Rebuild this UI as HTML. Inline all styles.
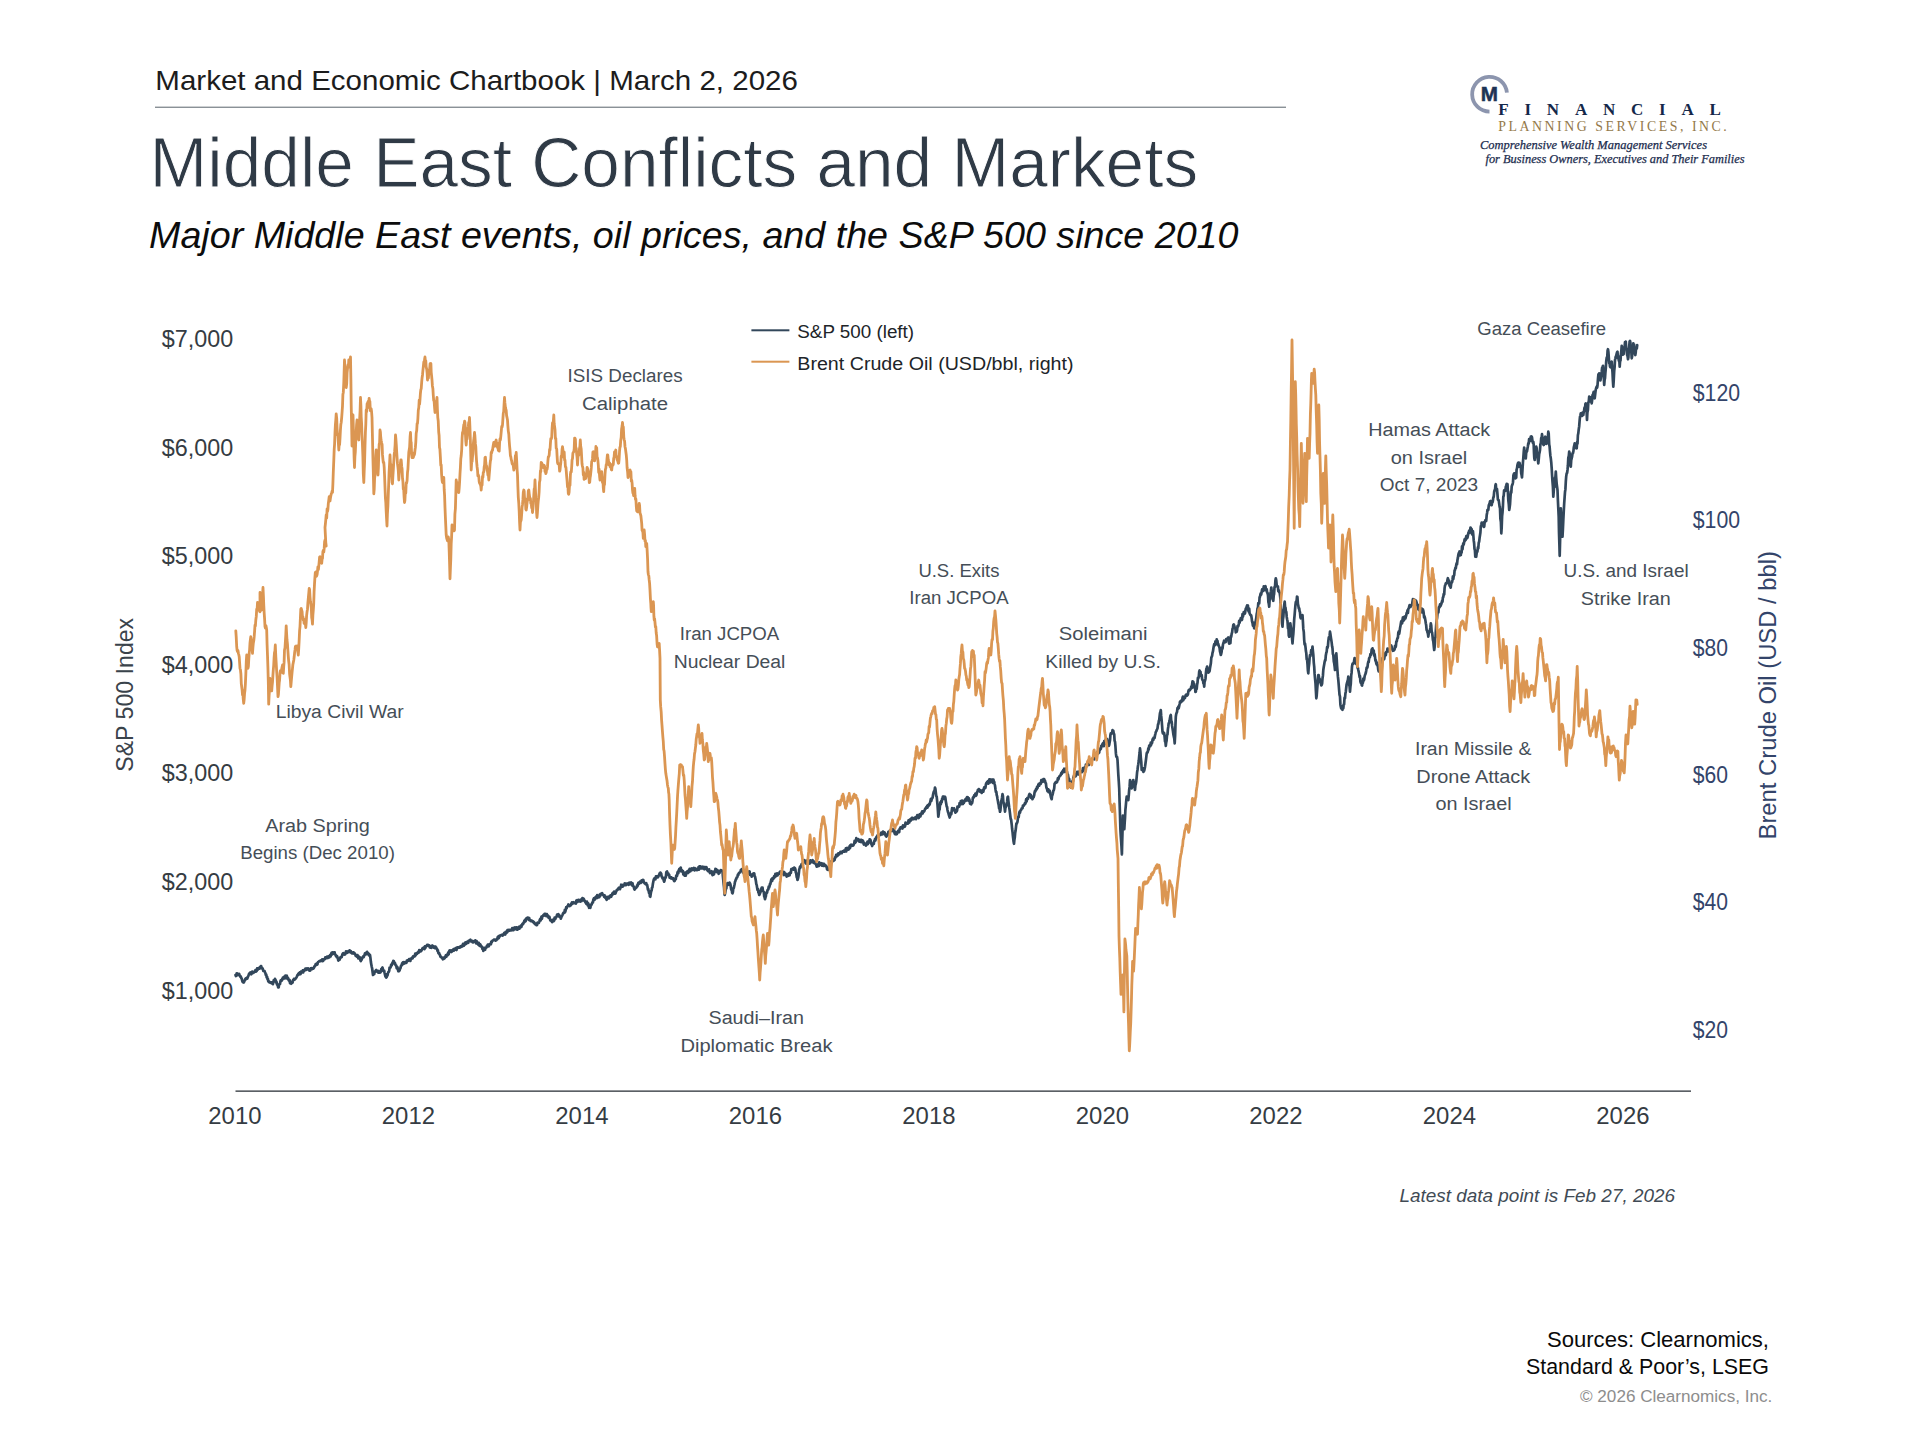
<!DOCTYPE html>
<html lang="en"><head><meta charset="utf-8"><title>Middle East Conflicts and Markets</title>
<style>
html,body{margin:0;padding:0;background:#fff;}
body{width:1920px;height:1440px;overflow:hidden;font-family:'Liberation Sans', Arial, sans-serif;}
svg{display:block}

</style></head><body>
<svg font-family="Liberation Sans, Arial, sans-serif" width="1920" height="1440" viewBox="0 0 1920 1440">
<rect width="1920" height="1440" fill="#ffffff"/>
<polyline points="235.5,975.0 235.9,976.1 236.3,975.9 236.7,973.3 237.1,973.3 237.5,975.1 237.9,974.7 238.3,974.4 238.8,973.8 239.2,974.0 239.6,975.5 240.0,976.2 240.4,976.9 240.8,976.5 241.2,977.9 241.7,978.6 242.1,980.2 242.5,981.6 242.9,982.2 243.3,981.9 243.8,982.5 244.2,981.7 244.6,980.6 245.1,979.4 245.5,978.7 246.0,979.3 246.4,978.3 246.9,977.8 247.3,978.6 247.8,976.9 248.2,976.4 248.7,974.9 249.1,973.7 249.6,973.9 250.0,973.8 250.4,972.5 250.9,973.2 251.3,974.3 251.8,973.2 252.2,971.5 252.7,973.2 253.1,972.7 253.6,972.2 254.0,972.4 254.5,971.8 254.9,971.6 255.4,970.1 255.8,971.6 256.2,970.0 256.7,971.0 257.1,968.4 257.5,969.8 257.9,969.3 258.3,968.3 258.8,968.2 259.2,967.8 259.6,968.7 260.0,967.2 260.4,967.8 260.8,966.2 261.2,966.2 261.7,968.0 262.1,968.7 262.5,968.2 262.9,969.2 263.3,970.9 263.8,971.0 264.2,971.1 264.6,971.0 265.0,972.5 265.4,973.0 265.8,975.0 266.2,974.5 266.7,977.5 267.1,976.7 267.5,979.4 267.9,978.8 268.3,981.5 268.8,981.2 269.2,982.1 269.6,981.8 270.0,982.1 270.4,982.8 270.8,982.9 271.2,982.4 271.7,982.4 272.1,983.5 272.5,983.8 272.9,984.1 273.3,982.4 273.8,980.1 274.2,981.3 274.6,980.2 275.0,978.8 275.4,980.9 275.8,980.1 276.2,982.7 276.6,982.0 277.0,984.6 277.4,984.7 277.8,985.7 278.2,987.5 278.7,987.4 279.1,984.3 279.5,984.3 280.0,984.1 280.4,981.5 280.8,980.3 281.2,980.0 281.7,980.7 282.1,979.2 282.5,979.6 282.9,977.5 283.3,978.1 283.8,977.2 284.2,978.3 284.6,976.4 285.0,978.4 285.4,975.6 285.8,977.2 286.2,976.2 286.7,975.6 287.1,976.8 287.5,979.0 287.9,977.8 288.3,978.5 288.8,980.5 289.2,980.3 289.6,980.0 290.0,983.2 290.4,981.6 290.8,981.9 291.2,983.8 291.7,982.7 292.1,982.8 292.6,982.5 293.0,980.2 293.5,980.2 293.9,978.8 294.4,979.2 294.8,979.5 295.3,978.8 295.7,978.6 296.2,977.6 296.6,977.2 297.1,976.2 297.5,975.0 297.9,974.6 298.4,973.7 298.8,974.6 299.3,973.3 299.7,972.5 300.1,973.1 300.6,974.0 301.0,971.6 301.5,972.6 301.9,971.8 302.4,971.8 302.8,970.5 303.2,972.4 303.7,970.2 304.1,970.9 304.6,970.1 305.0,970.0 305.4,968.6 305.9,970.0 306.3,968.8 306.8,968.5 307.2,968.4 307.6,968.6 308.1,968.4 308.5,969.8 309.0,969.4 309.4,970.6 309.9,970.4 310.3,970.5 310.7,968.3 311.2,968.8 311.6,968.2 312.1,969.1 312.5,968.8 312.9,968.7 313.4,968.7 313.8,968.0 314.3,966.3 314.7,966.3 315.1,966.2 315.6,964.3 316.0,963.9 316.5,964.5 316.9,963.3 317.4,964.5 317.8,962.7 318.2,961.9 318.7,961.7 319.1,961.4 319.6,960.9 320.0,961.2 320.4,961.1 320.9,960.7 321.3,960.1 321.8,960.8 322.2,959.3 322.6,961.1 323.1,961.0 323.5,960.1 324.0,959.1 324.4,959.1 324.9,959.1 325.3,957.3 325.7,958.2 326.2,958.2 326.6,957.0 327.1,956.6 327.5,957.5 327.9,958.0 328.4,956.4 328.8,956.5 329.3,957.3 329.7,956.0 330.2,954.8 330.6,956.4 331.1,954.3 331.5,952.9 332.0,954.5 332.4,952.4 332.9,952.7 333.3,953.8 333.8,952.5 334.2,953.6 334.6,952.4 335.0,954.2 335.4,954.7 335.8,955.6 336.2,955.4 336.7,957.1 337.1,956.3 337.5,957.5 337.9,958.4 338.3,960.6 338.8,960.0 339.2,958.3 339.6,959.7 340.0,957.6 340.4,958.1 340.8,957.1 341.2,956.8 341.7,957.1 342.1,955.5 342.5,954.2 342.9,953.7 343.3,953.1 343.8,953.8 344.2,954.5 344.6,953.7 345.1,954.4 345.5,953.4 346.0,951.3 346.4,952.9 346.9,953.0 347.3,952.7 347.8,951.8 348.2,951.2 348.7,951.3 349.1,952.0 349.6,950.3 350.0,950.8 350.4,951.1 350.9,951.3 351.3,953.0 351.8,952.8 352.2,953.5 352.7,953.5 353.1,952.3 353.6,952.4 354.0,953.5 354.5,953.1 354.9,953.9 355.4,954.9 355.8,955.9 356.2,955.0 356.7,955.7 357.1,956.7 357.5,955.1 357.9,956.3 358.3,958.5 358.8,956.5 359.2,957.7 359.6,957.1 360.0,957.6 360.4,960.3 360.8,961.0 361.2,960.0 361.7,959.8 362.1,957.7 362.5,957.6 362.9,956.7 363.3,957.4 363.8,956.8 364.2,955.5 364.6,955.1 365.0,953.3 365.4,953.9 365.8,954.4 366.2,952.5 366.7,953.5 367.1,951.9 367.5,953.4 367.9,954.2 368.3,953.2 368.8,955.3 369.2,954.3 369.6,955.3 370.0,955.0 370.4,957.6 370.9,962.1 371.3,964.4 371.7,966.6 372.1,968.3 372.6,972.0 373.0,975.0 373.4,973.1 373.8,974.0 374.2,974.2 374.6,971.6 375.0,971.9 375.4,971.2 375.8,970.4 376.2,970.0 376.7,970.9 377.1,971.7 377.5,971.4 377.9,971.0 378.3,972.6 378.8,971.2 379.2,972.6 379.6,972.7 380.0,972.5 380.4,972.4 380.8,971.8 381.2,969.2 381.7,969.5 382.1,968.1 382.5,967.5 382.9,969.1 383.3,971.0 383.8,971.2 384.2,970.6 384.6,973.0 385.0,974.7 385.4,976.3 385.8,976.8 386.2,977.5 386.7,977.2 387.1,974.0 387.5,975.4 387.9,973.7 388.3,972.2 388.8,971.9 389.2,970.8 389.6,967.5 390.0,967.5 390.4,967.7 390.8,966.8 391.2,964.6 391.7,965.4 392.1,964.3 392.5,962.5 392.9,963.5 393.3,960.9 393.8,961.2 394.2,962.4 394.6,962.7 395.0,963.1 395.4,964.8 395.8,965.3 396.2,965.4 396.7,968.4 397.1,966.7 397.5,967.4 397.9,969.5 398.3,971.3 398.8,971.2 399.2,970.8 399.6,970.3 400.0,968.7 400.4,968.4 400.8,966.6 401.2,965.6 401.7,965.4 402.1,963.3 402.5,963.8 402.9,962.4 403.4,964.0 403.8,962.2 404.3,963.6 404.7,963.4 405.1,962.2 405.6,962.7 406.0,962.8 406.5,962.8 406.9,960.5 407.4,960.4 407.8,960.8 408.2,960.8 408.7,960.1 409.1,959.1 409.6,960.4 410.0,960.0 410.4,960.9 410.9,958.7 411.3,958.8 411.8,957.9 412.2,957.6 412.6,958.4 413.1,956.4 413.5,956.9 414.0,956.0 414.4,955.7 414.9,956.3 415.3,953.5 415.7,955.2 416.2,953.3 416.6,953.8 417.1,953.8 417.5,952.5 417.9,952.6 418.4,951.6 418.8,952.6 419.2,950.2 419.7,951.4 420.1,950.4 420.5,950.5 421.0,951.2 421.4,950.7 421.8,949.9 422.3,948.7 422.7,948.2 423.2,948.6 423.6,947.6 424.0,947.5 424.5,949.1 424.9,946.4 425.3,948.1 425.8,946.6 426.2,946.2 426.6,945.8 427.1,944.8 427.5,945.8 427.9,945.7 428.4,945.0 428.8,945.8 429.2,945.5 429.7,947.3 430.1,947.5 430.6,946.2 431.0,946.9 431.4,947.8 431.9,946.1 432.3,945.5 432.8,946.0 433.2,946.0 433.6,947.5 434.1,946.7 434.5,946.7 434.9,948.1 435.4,946.6 435.8,948.3 436.2,947.5 436.7,948.7 437.1,948.9 437.5,950.9 437.9,950.4 438.3,952.8 438.8,953.7 439.2,953.3 439.6,954.7 440.0,955.0 440.4,956.7 440.8,956.5 441.2,957.0 441.7,957.7 442.1,958.3 442.5,958.2 442.9,959.3 443.3,957.7 443.8,958.8 444.2,958.6 444.6,958.2 445.1,956.8 445.5,956.3 446.0,955.1 446.4,956.8 446.9,954.6 447.3,954.4 447.8,955.1 448.2,952.5 448.7,954.2 449.1,951.3 449.6,950.4 450.0,951.2 450.4,950.7 450.9,950.5 451.3,952.0 451.7,951.7 452.2,951.2 452.6,950.1 453.0,950.2 453.5,949.2 453.9,950.7 454.3,949.3 454.8,948.8 455.2,949.7 455.7,948.1 456.1,948.4 456.5,950.0 457.0,947.5 457.4,947.4 457.8,947.5 458.3,947.4 458.7,947.8 459.1,947.1 459.6,947.2 460.0,947.5 460.4,946.4 460.9,946.1 461.3,946.8 461.7,945.7 462.2,945.5 462.6,946.3 463.0,943.9 463.5,943.9 463.9,945.6 464.3,944.0 464.8,944.7 465.2,942.5 465.7,943.3 466.1,943.9 466.5,942.1 467.0,943.1 467.4,942.3 467.8,941.3 468.3,942.8 468.7,940.7 469.1,940.6 469.6,940.7 470.0,940.0 470.4,939.6 470.9,941.3 471.3,940.7 471.8,940.8 472.2,940.8 472.6,942.3 473.1,942.5 473.5,942.2 474.0,941.2 474.4,941.2 474.9,941.7 475.3,940.4 475.7,940.8 476.2,943.5 476.6,941.1 477.1,943.6 477.5,942.5 477.9,943.6 478.4,944.8 478.8,942.9 479.3,944.1 479.7,946.0 480.2,944.3 480.6,945.1 481.1,946.4 481.5,946.4 482.0,946.8 482.4,948.9 482.9,947.8 483.3,950.8 483.8,950.0 484.2,950.0 484.6,947.8 485.1,949.8 485.5,947.5 486.0,947.7 486.4,947.5 486.9,945.8 487.3,946.4 487.8,944.7 488.2,944.7 488.7,946.3 489.1,945.6 489.6,944.3 490.0,943.8 490.4,944.0 490.9,944.2 491.3,941.7 491.7,942.4 492.2,941.0 492.6,940.7 493.0,940.3 493.5,940.3 493.9,939.5 494.3,939.6 494.8,939.8 495.2,940.2 495.7,940.6 496.1,940.4 496.5,939.5 497.0,938.6 497.4,939.4 497.8,936.9 498.3,936.4 498.7,938.2 499.1,937.3 499.6,935.7 500.0,936.2 500.4,935.6 500.9,935.1 501.3,935.2 501.7,934.9 502.2,934.6 502.6,935.5 503.0,935.3 503.5,934.3 503.9,933.7 504.3,932.9 504.8,934.1 505.2,934.5 505.7,931.9 506.1,933.1 506.5,932.8 507.0,932.4 507.4,930.2 507.8,931.5 508.3,930.2 508.7,929.9 509.1,930.8 509.6,930.7 510.0,930.0 510.4,930.3 510.9,930.5 511.3,930.3 511.7,929.5 512.2,928.1 512.6,930.2 513.0,930.2 513.5,930.1 513.9,929.3 514.3,927.5 514.8,927.9 515.2,927.5 515.7,929.0 516.1,928.6 516.5,927.4 517.0,929.6 517.4,929.6 517.8,929.3 518.3,927.8 518.7,927.2 519.1,926.8 519.6,928.6 520.0,927.5 520.4,927.5 520.9,925.6 521.3,927.0 521.8,925.4 522.2,924.3 522.6,923.7 523.1,924.1 523.5,922.7 524.0,922.7 524.4,920.5 524.9,921.7 525.3,919.7 525.7,921.1 526.2,918.4 526.6,918.2 527.1,918.2 527.5,917.5 527.9,917.5 528.4,918.3 528.8,919.9 529.2,918.1 529.7,920.2 530.1,920.3 530.6,921.0 531.0,920.3 531.4,920.7 531.9,920.8 532.3,921.5 532.8,921.2 533.2,921.4 533.6,922.7 534.1,922.2 534.5,923.4 534.9,924.1 535.4,923.7 535.8,923.6 536.2,925.0 536.7,924.8 537.1,925.0 537.6,922.5 538.0,923.1 538.4,922.7 538.9,922.8 539.3,921.6 539.8,919.9 540.2,919.0 540.6,920.4 541.1,918.2 541.5,916.7 541.9,918.8 542.4,916.2 542.8,916.0 543.2,915.4 543.7,914.7 544.1,915.6 544.6,913.8 545.0,913.8 545.4,914.0 545.9,914.4 546.3,916.1 546.8,914.0 547.2,916.2 547.6,915.2 548.1,915.7 548.5,917.6 549.0,917.3 549.4,916.8 549.9,918.9 550.3,920.3 550.7,919.9 551.2,919.9 551.6,921.3 552.1,922.1 552.5,921.2 552.9,919.7 553.3,919.6 553.8,921.1 554.2,920.5 554.6,917.7 555.0,918.8 555.4,918.8 555.8,917.4 556.2,917.2 556.7,916.1 557.1,914.7 557.5,915.0 557.9,914.4 558.3,914.2 558.8,916.4 559.2,915.0 559.6,916.8 560.0,916.3 560.4,916.7 560.8,918.7 561.2,917.5 561.7,916.4 562.1,915.8 562.6,914.7 563.0,913.4 563.5,912.6 563.9,912.8 564.4,912.9 564.8,909.8 565.3,911.7 565.7,910.0 566.2,907.2 566.6,908.5 567.1,906.7 567.5,906.2 567.9,906.1 568.4,904.5 568.8,905.6 569.3,905.4 569.7,906.1 570.1,905.2 570.6,905.4 571.0,905.2 571.5,903.4 571.9,902.5 572.4,903.8 572.8,902.4 573.2,902.2 573.7,902.6 574.1,903.1 574.6,903.1 575.0,902.5 575.4,902.8 575.9,903.6 576.3,900.7 576.8,901.9 577.2,900.2 577.6,901.9 578.1,901.0 578.5,899.8 578.9,900.2 579.4,901.1 579.8,900.4 580.2,901.7 580.7,899.6 581.1,899.4 581.6,901.1 582.0,899.8 582.4,898.0 582.9,900.0 583.3,898.5 583.8,898.8 584.2,900.8 584.6,900.4 585.1,901.6 585.5,902.5 586.0,901.9 586.4,904.0 586.9,901.6 587.3,903.2 587.8,905.5 588.2,903.4 588.7,906.2 589.1,907.8 589.6,907.6 590.0,907.5 590.4,907.8 590.8,904.5 591.2,905.1 591.7,904.5 592.1,903.1 592.5,902.2 592.9,902.6 593.3,899.7 593.8,898.5 594.2,899.5 594.6,899.9 595.0,897.5 595.4,898.4 595.9,897.7 596.3,896.3 596.8,898.1 597.2,895.1 597.6,895.6 598.1,897.2 598.5,897.4 599.0,895.6 599.4,897.1 599.9,894.3 600.3,895.7 600.7,893.8 601.2,894.2 601.6,893.8 602.1,893.1 602.5,894.5 602.9,894.7 603.3,895.4 603.8,895.2 604.2,896.9 604.6,895.4 605.0,897.4 605.4,897.9 605.8,898.0 606.2,898.8 606.7,899.8 607.1,896.9 607.6,897.6 608.0,897.4 608.4,896.8 608.9,898.4 609.3,896.8 609.8,896.3 610.2,895.7 610.6,895.4 611.1,896.8 611.5,896.0 611.9,895.2 612.4,893.3 612.8,894.4 613.2,892.5 613.7,892.9 614.1,891.6 614.6,893.5 615.0,892.5 615.4,893.6 615.9,892.1 616.3,891.4 616.8,889.9 617.2,890.1 617.6,889.7 618.1,889.2 618.5,888.2 619.0,887.6 619.4,888.9 619.9,889.2 620.3,888.3 620.7,887.2 621.2,884.7 621.6,885.2 622.1,886.6 622.5,885.0 622.9,886.5 623.4,884.9 623.8,884.9 624.2,885.1 624.7,883.5 625.1,885.0 625.6,883.7 626.0,885.2 626.4,883.7 626.9,884.3 627.3,883.8 627.8,883.6 628.2,883.2 628.6,884.8 629.1,884.0 629.5,882.7 629.9,882.9 630.4,884.1 630.8,883.5 631.2,882.5 631.7,883.7 632.1,885.4 632.5,883.3 632.9,885.6 633.3,886.4 633.8,886.5 634.2,888.9 634.6,889.6 635.0,888.8 635.4,887.8 635.8,888.0 636.2,887.9 636.7,887.1 637.1,885.4 637.5,886.2 637.9,884.1 638.3,882.9 638.8,884.0 639.2,883.4 639.6,882.0 640.0,881.7 640.4,881.5 640.8,882.9 641.2,882.1 641.6,880.5 642.1,882.0 642.5,880.7 642.9,879.9 643.3,880.0 643.7,881.2 644.1,882.3 644.6,883.3 645.0,883.3 645.4,883.9 645.8,883.7 646.2,883.1 646.7,885.2 647.1,884.7 647.5,886.7 647.9,889.6 648.3,889.1 648.7,891.3 649.1,893.2 649.5,892.8 649.9,896.4 650.3,896.7 650.7,894.0 651.2,891.0 651.6,890.6 652.0,887.8 652.4,887.4 652.9,883.7 653.3,881.7 653.7,879.7 654.1,878.8 654.6,878.2 655.0,879.2 655.4,879.3 655.9,876.4 656.3,876.7 656.7,876.7 657.1,876.3 657.5,877.4 657.9,877.3 658.3,876.6 658.8,875.5 659.2,874.9 659.6,873.4 660.0,874.4 660.4,872.5 660.8,873.3 661.2,873.7 661.6,876.5 662.1,876.7 662.5,878.3 662.9,878.4 663.4,878.9 663.8,880.7 664.2,881.7 664.6,880.3 665.0,877.5 665.5,877.9 665.9,876.7 666.3,872.3 666.7,871.7 667.1,871.5 667.5,874.1 667.9,874.4 668.3,873.4 668.8,875.3 669.2,874.8 669.6,877.6 670.0,877.3 670.4,877.7 670.8,878.3 671.2,877.3 671.6,878.3 672.1,878.7 672.5,878.5 672.9,878.1 673.3,878.3 673.7,880.2 674.2,881.1 674.6,881.0 675.0,880.0 675.4,879.4 675.8,879.0 676.2,875.8 676.7,875.1 677.1,875.8 677.5,872.4 677.9,871.7 678.3,873.2 678.8,870.2 679.2,869.2 679.6,868.9 680.0,868.3 680.4,870.0 680.8,867.7 681.2,871.3 681.7,869.9 682.1,871.3 682.5,871.6 682.9,870.9 683.3,874.3 683.8,872.2 684.2,874.9 684.6,875.7 685.0,875.0 685.4,874.4 685.8,875.7 686.2,872.3 686.7,872.1 687.1,872.9 687.5,871.0 687.9,873.1 688.3,871.8 688.8,872.3 689.2,870.1 689.6,868.8 690.0,870.0 690.4,871.3 690.9,868.9 691.3,869.6 691.8,868.5 692.2,870.0 692.7,869.6 693.1,868.6 693.6,868.0 694.0,869.0 694.5,870.4 694.9,868.2 695.4,868.4 695.8,869.7 696.3,869.7 696.7,869.2 697.1,870.1 697.6,869.3 698.0,869.8 698.5,867.2 698.9,869.7 699.4,866.4 699.8,866.5 700.3,866.3 700.7,868.4 701.2,867.3 701.6,868.5 702.1,868.5 702.5,866.7 702.9,868.5 703.4,867.6 703.8,866.9 704.3,869.3 704.7,868.8 705.2,867.2 705.6,868.7 706.1,867.1 706.5,867.3 707.0,869.7 707.4,870.3 707.9,871.0 708.3,870.0 708.7,871.2 709.1,869.4 709.5,871.9 710.0,873.1 710.4,872.4 710.8,872.0 711.2,871.7 711.6,871.3 712.0,873.6 712.5,875.1 712.9,872.5 713.3,874.2 713.7,874.5 714.1,873.9 714.5,871.2 715.0,872.1 715.4,868.8 715.8,869.2 716.2,869.1 716.6,870.5 717.0,872.2 717.5,871.5 717.9,870.5 718.3,872.5 718.7,873.8 719.1,872.4 719.6,872.9 720.0,870.9 720.4,871.1 720.8,870.1 721.2,870.2 721.7,870.9 722.1,870.7 722.5,870.8 722.9,876.1 723.4,881.4 723.8,885.0 724.1,887.8 724.4,893.1 724.7,895.0 725.1,893.5 725.5,890.5 725.9,888.0 726.3,888.5 726.7,885.0 727.1,885.3 727.5,883.0 727.9,885.0 728.4,883.7 728.8,883.7 729.2,884.6 729.6,882.6 730.0,883.3 730.4,884.2 730.8,886.8 731.2,889.6 731.7,888.6 732.1,892.7 732.5,893.3 732.9,892.1 733.3,888.4 733.8,888.0 734.2,886.0 734.6,884.3 735.0,881.7 735.4,881.0 735.8,879.4 736.2,879.2 736.6,877.5 737.1,877.4 737.5,876.4 737.9,874.5 738.3,875.0 738.7,873.4 739.1,873.0 739.6,872.5 740.0,872.3 740.4,872.2 740.9,869.8 741.3,870.1 741.7,869.2 742.1,869.2 742.5,869.3 742.9,869.5 743.4,872.8 743.8,873.3 744.2,873.4 744.6,871.7 745.0,873.3 745.4,872.0 745.8,871.8 746.3,872.4 746.7,872.7 747.1,871.2 747.5,872.6 747.9,873.4 748.4,873.8 748.8,871.5 749.2,872.5 749.6,871.5 750.0,874.9 750.5,874.2 750.9,874.7 751.3,874.8 751.7,876.7 752.1,875.3 752.5,874.8 753.0,874.2 753.4,873.5 753.8,873.9 754.2,873.3 754.6,876.3 755.0,876.5 755.5,878.9 755.9,881.0 756.3,884.2 756.7,885.0 757.1,887.6 757.5,889.9 758.0,888.9 758.4,892.7 758.8,892.7 759.2,895.0 759.6,894.3 760.0,893.2 760.4,892.4 760.9,890.7 761.3,888.9 761.7,887.7 762.1,889.9 762.5,887.5 762.9,890.7 763.3,891.3 763.8,892.0 764.2,896.4 764.6,897.3 765.0,899.2 765.4,897.6 765.8,896.6 766.2,893.5 766.7,892.1 767.1,892.6 767.5,890.0 767.9,889.7 768.3,889.5 768.7,886.7 769.1,887.4 769.6,886.1 770.0,883.8 770.4,884.1 770.8,881.7 771.2,880.0 771.6,879.1 772.1,881.0 772.5,878.1 772.9,878.8 773.3,879.0 773.7,878.2 774.2,876.0 774.6,877.4 775.0,875.8 775.4,873.9 775.8,875.3 776.2,876.1 776.7,874.6 777.1,873.4 777.5,875.5 777.9,874.2 778.3,874.1 778.8,874.1 779.2,873.9 779.6,872.3 780.0,871.7 780.4,873.0 780.8,872.1 781.2,871.5 781.7,871.8 782.1,871.9 782.5,871.3 782.9,873.6 783.3,873.0 783.8,875.0 784.2,872.2 784.6,875.0 785.0,874.2 785.4,873.4 785.8,874.0 786.2,874.1 786.6,876.6 787.1,875.7 787.5,875.3 787.9,874.5 788.3,875.8 788.7,873.5 789.1,873.9 789.6,875.3 790.0,872.7 790.4,872.8 790.9,872.8 791.3,869.2 791.7,870.0 792.1,869.2 792.5,869.3 792.9,868.4 793.4,868.7 793.8,869.6 794.2,867.5 794.6,869.2 795.0,868.3 795.4,869.5 795.8,872.7 796.2,873.0 796.7,877.1 797.1,877.8 797.5,880.0 797.9,878.9 798.3,877.2 798.8,873.6 799.2,869.5 799.6,868.5 800.0,866.7 800.4,867.7 800.8,866.0 801.2,865.7 801.6,864.1 802.1,865.1 802.5,864.4 802.9,862.7 803.3,861.7 803.7,862.1 804.1,860.4 804.5,860.2 805.0,860.9 805.4,862.8 805.8,863.3 806.2,863.1 806.6,863.6 807.0,860.7 807.5,860.7 807.9,861.6 808.3,862.5 808.7,860.7 809.1,862.5 809.5,863.6 810.0,863.3 810.4,860.4 810.8,862.2 811.2,862.1 811.6,861.9 812.0,860.9 812.5,860.2 812.9,862.3 813.3,860.8 813.7,863.0 814.1,863.0 814.6,863.2 815.0,862.1 815.4,863.7 815.9,864.3 816.3,865.1 816.7,866.7 817.1,865.3 817.5,866.4 817.9,866.1 818.4,863.9 818.8,866.0 819.2,862.4 819.6,865.3 820.0,863.3 820.4,863.8 820.8,864.2 821.2,863.2 821.7,864.8 822.1,865.7 822.5,863.5 822.9,863.5 823.3,866.0 823.8,864.3 824.2,864.0 824.6,865.6 825.0,865.8 825.4,865.2 825.8,865.9 826.2,866.6 826.6,866.5 827.1,869.5 827.5,869.2 827.9,870.0 828.3,870.0 828.7,868.2 829.1,868.9 829.6,868.5 830.0,867.6 830.4,863.2 830.9,863.1 831.3,861.3 831.7,861.7 832.1,861.1 832.5,861.3 832.9,860.6 833.3,859.2 833.8,860.8 834.2,859.1 834.6,860.0 835.0,857.4 835.4,857.7 835.8,856.7 836.2,854.9 836.6,856.1 837.1,856.2 837.5,854.4 837.9,855.4 838.3,853.3 838.7,854.2 839.2,854.4 839.6,853.6 840.0,853.3 840.4,851.9 840.8,851.9 841.3,852.4 841.7,853.2 842.1,852.3 842.5,851.3 842.9,851.6 843.4,851.3 843.8,850.6 844.2,851.7 844.6,851.7 845.0,850.9 845.4,850.1 845.8,848.5 846.2,851.5 846.7,848.0 847.1,847.9 847.5,848.2 847.9,849.7 848.3,848.3 848.7,849.5 849.1,848.6 849.6,846.2 850.0,848.2 850.4,845.0 850.8,844.9 851.2,844.6 851.7,845.9 852.1,845.7 852.5,845.0 852.9,844.9 853.3,845.5 853.8,844.2 854.2,843.6 854.6,840.9 855.0,843.0 855.4,842.5 855.9,841.6 856.3,838.2 856.7,839.2 857.1,840.2 857.5,839.7 858.0,840.0 858.4,839.2 858.8,841.2 859.2,841.6 859.6,841.6 860.0,840.1 860.5,841.9 860.9,839.8 861.3,842.2 861.7,841.7 862.1,840.2 862.5,840.3 863.0,840.9 863.4,843.1 863.8,844.5 864.2,842.8 864.6,843.7 865.0,843.7 865.5,844.8 865.9,845.5 866.3,845.1 866.7,844.2 867.1,843.1 867.5,841.6 867.9,844.1 868.4,841.3 868.8,842.5 869.2,842.4 869.6,839.3 870.0,840.0 870.4,839.7 870.8,841.4 871.2,843.8 871.7,844.6 872.1,846.0 872.5,845.0 872.9,843.3 873.3,843.8 873.8,843.9 874.2,841.2 874.6,841.2 875.0,839.0 875.4,840.5 875.9,838.1 876.3,837.5 876.7,836.7 877.1,836.9 877.5,835.3 878.0,836.8 878.4,835.1 878.8,834.7 879.2,835.4 879.6,834.9 880.0,834.7 880.5,834.9 880.9,834.4 881.3,832.5 881.7,832.5 882.1,833.2 882.5,834.3 883.0,831.5 883.4,833.9 883.8,833.6 884.2,833.4 884.6,832.5 885.0,833.4 885.5,835.3 885.9,836.0 886.3,836.6 886.7,835.0 887.1,835.5 887.5,835.4 888.0,834.8 888.4,831.8 888.8,833.3 889.2,833.5 889.6,832.6 890.0,830.3 890.5,831.4 890.9,829.8 891.3,829.4 891.7,829.2 892.1,830.5 892.5,830.7 893.0,829.1 893.4,831.4 893.8,829.6 894.2,830.6 894.6,833.3 895.0,834.1 895.5,832.0 895.9,834.4 896.3,832.6 896.7,834.2 897.1,833.6 897.5,832.5 898.0,831.0 898.4,831.7 898.8,831.6 899.2,832.2 899.6,828.8 900.0,828.9 900.5,827.3 900.9,827.5 901.3,827.2 901.7,827.5 902.1,828.4 902.5,828.5 903.0,825.4 903.4,826.0 903.8,825.8 904.2,825.4 904.6,826.8 905.0,826.4 905.5,822.6 905.9,823.7 906.3,823.8 906.7,823.3 907.1,823.5 907.6,822.7 908.0,823.5 908.5,820.4 908.9,821.5 909.3,822.6 909.8,819.7 910.2,819.4 910.7,820.7 911.1,818.6 911.5,819.8 912.0,817.9 912.4,817.8 912.9,818.0 913.3,818.3 913.7,819.2 914.2,818.4 914.6,818.2 915.1,818.1 915.5,817.1 916.0,819.1 916.4,817.5 916.9,817.5 917.3,815.1 917.8,815.7 918.2,816.8 918.7,818.1 919.1,816.9 919.6,814.3 920.0,815.8 920.4,816.4 920.9,813.6 921.3,814.5 921.8,812.4 922.2,811.3 922.7,813.5 923.1,811.9 923.6,811.8 924.0,811.6 924.5,810.6 924.9,809.4 925.4,808.5 925.8,808.7 926.3,807.1 926.7,807.5 927.1,806.0 927.5,807.6 927.9,805.2 928.4,806.1 928.8,805.4 929.2,804.0 929.6,804.7 930.0,803.0 930.4,801.2 930.9,798.8 931.3,801.0 931.7,799.4 932.1,798.2 932.6,797.8 933.0,795.0 933.4,793.1 933.8,791.7 934.2,791.0 934.6,790.5 935.0,787.5 935.4,788.9 935.9,793.1 936.3,796.2 936.7,796.7 937.1,800.7 937.5,804.8 937.9,810.4 938.3,816.7 938.7,814.3 939.1,809.7 939.6,809.7 940.0,805.0 940.4,802.3 940.8,804.3 941.2,801.1 941.7,802.2 942.1,798.8 942.5,798.3 942.9,796.5 943.3,798.5 943.8,796.7 944.2,799.0 944.6,798.3 945.0,796.7 945.4,797.9 945.8,801.1 946.2,803.5 946.7,806.6 947.1,806.9 947.5,810.0 947.9,811.8 948.4,813.1 948.8,814.8 949.3,816.2 949.7,817.5 950.1,815.9 950.5,814.4 950.9,813.2 951.3,814.2 951.7,811.0 952.1,808.1 952.5,808.3 952.9,808.3 953.3,810.2 953.7,810.3 954.1,808.4 954.6,810.1 955.0,810.7 955.4,812.6 955.8,811.7 956.2,810.0 956.6,811.6 957.1,810.4 957.5,806.5 957.9,807.5 958.3,806.8 958.7,806.3 959.2,806.5 959.6,803.0 960.0,803.3 960.4,804.4 960.8,801.0 961.3,804.1 961.7,801.7 962.1,800.6 962.5,803.6 962.9,804.0 963.4,802.6 963.8,803.0 964.2,801.7 964.6,800.8 965.0,799.7 965.4,800.8 965.9,800.8 966.3,798.2 966.7,798.1 967.1,797.1 967.5,797.5 967.9,797.4 968.3,800.6 968.7,798.1 969.1,799.0 969.6,800.4 970.0,803.6 970.4,803.6 970.8,804.2 971.2,804.3 971.6,803.1 972.1,803.0 972.5,800.9 972.9,797.7 973.3,797.1 973.7,797.4 974.2,795.3 974.6,795.2 975.0,795.0 975.4,793.6 975.8,795.9 976.3,795.4 976.7,793.7 977.1,792.2 977.5,791.7 977.9,789.8 978.4,790.8 978.8,789.1 979.2,790.0 979.6,790.3 980.0,791.7 980.4,790.2 980.9,791.7 981.3,792.3 981.7,792.9 982.1,791.2 982.5,791.7 982.9,789.8 983.3,791.6 983.8,789.2 984.2,787.4 984.6,788.2 985.0,788.1 985.4,787.8 985.9,784.5 986.3,783.2 986.7,783.3 987.1,782.0 987.5,781.8 987.9,781.2 988.3,783.7 988.8,782.2 989.2,779.5 989.6,779.3 990.0,779.4 990.4,782.3 990.8,780.0 991.2,779.6 991.6,781.7 992.1,779.5 992.5,779.6 992.9,782.9 993.4,779.5 993.8,781.5 994.2,781.7 994.6,784.0 995.0,785.5 995.5,789.4 995.9,792.0 996.3,791.7 996.7,795.0 997.1,796.2 997.5,798.9 997.9,800.9 998.3,803.5 998.7,805.0 999.1,808.3 999.6,808.8 1000.0,811.7 1000.4,810.5 1000.8,805.7 1001.2,801.1 1001.7,799.7 1002.1,797.2 1002.5,794.2 1002.9,795.9 1003.3,801.5 1003.8,803.3 1004.2,805.9 1004.6,807.9 1005.0,811.7 1005.4,808.1 1005.9,806.5 1006.3,805.8 1006.7,803.8 1007.1,801.7 1007.6,797.0 1008.0,796.7 1008.4,801.1 1008.8,804.1 1009.2,807.4 1009.6,810.1 1010.0,813.3 1010.4,816.7 1010.7,819.1 1011.1,819.4 1011.5,822.8 1011.8,825.3 1012.1,828.8 1012.5,831.7 1012.9,835.8 1013.2,838.4 1013.6,841.8 1014.0,843.8 1014.4,839.7 1014.8,837.5 1015.2,832.7 1015.6,830.6 1016.0,827.0 1016.4,823.5 1016.8,823.7 1017.1,822.7 1017.5,821.7 1017.9,818.4 1018.3,816.7 1018.7,817.1 1019.1,813.4 1019.6,811.7 1020.0,812.7 1020.4,810.8 1020.9,810.0 1021.3,809.7 1021.7,808.3 1022.1,808.6 1022.5,808.4 1022.9,805.6 1023.3,806.0 1023.8,805.5 1024.2,805.1 1024.6,804.0 1025.0,802.9 1025.4,803.6 1025.8,801.7 1026.2,799.1 1026.6,801.5 1027.1,798.4 1027.5,797.8 1027.9,799.0 1028.3,797.5 1028.7,796.4 1029.2,794.7 1029.6,793.9 1030.0,795.0 1030.4,794.8 1030.8,794.8 1031.2,797.9 1031.7,796.6 1032.1,798.0 1032.5,799.2 1032.9,797.7 1033.3,797.7 1033.7,797.0 1034.2,795.1 1034.6,792.3 1035.0,790.8 1035.4,791.4 1035.8,790.0 1036.2,788.8 1036.6,789.6 1037.1,786.8 1037.5,788.1 1037.9,786.1 1038.3,785.1 1038.7,784.0 1039.2,785.7 1039.6,784.0 1040.0,783.3 1040.4,783.1 1040.8,783.8 1041.3,780.1 1041.7,781.8 1042.1,780.5 1042.5,779.8 1042.9,781.8 1043.4,779.0 1043.8,779.2 1044.2,779.2 1044.6,780.4 1045.0,780.8 1045.5,783.0 1045.9,783.2 1046.3,786.8 1046.7,788.3 1047.1,789.2 1047.5,791.2 1048.0,791.4 1048.4,789.3 1048.8,792.2 1049.2,790.8 1049.6,790.6 1050.0,792.2 1050.5,795.1 1050.9,797.1 1051.3,798.2 1051.7,799.2 1052.1,795.4 1052.5,794.9 1052.9,793.2 1053.3,790.8 1053.8,790.3 1054.2,788.3 1054.6,783.6 1055.0,783.3 1055.4,782.5 1055.8,782.8 1056.3,782.5 1056.7,781.3 1057.1,782.0 1057.5,780.3 1057.9,778.2 1058.4,779.4 1058.8,777.8 1059.2,776.7 1059.6,776.4 1060.0,775.7 1060.4,775.7 1060.8,774.9 1061.2,773.2 1061.7,773.9 1062.1,771.7 1062.5,772.3 1062.9,772.4 1063.3,770.0 1063.7,770.2 1064.2,768.7 1064.6,772.0 1065.0,769.2 1065.4,769.3 1065.8,768.7 1066.3,770.4 1066.7,770.8 1067.1,772.1 1067.5,775.5 1067.9,774.5 1068.3,777.0 1068.8,780.3 1069.2,778.9 1069.6,782.1 1070.0,782.7 1070.4,786.9 1070.8,787.5 1071.2,785.3 1071.7,783.3 1072.1,781.9 1072.5,780.9 1072.9,781.6 1073.3,777.8 1073.8,776.2 1074.2,776.7 1074.6,775.2 1075.0,774.0 1075.4,776.4 1075.8,776.1 1076.3,774.7 1076.7,773.5 1077.1,771.8 1077.5,773.3 1077.9,774.0 1078.3,771.9 1078.8,773.0 1079.2,774.7 1079.6,771.4 1080.0,773.1 1080.4,771.9 1080.9,772.2 1081.3,771.5 1081.7,771.7 1082.1,772.0 1082.5,770.7 1083.0,768.1 1083.4,770.8 1083.8,767.8 1084.2,767.7 1084.6,767.7 1085.0,767.6 1085.5,767.8 1085.9,764.5 1086.3,765.1 1086.7,765.0 1087.1,765.1 1087.5,764.0 1088.0,762.7 1088.4,764.6 1088.8,764.9 1089.2,763.1 1089.6,762.2 1090.0,760.2 1090.5,761.2 1090.9,762.0 1091.3,759.6 1091.7,760.0 1092.1,759.3 1092.5,758.9 1093.0,757.9 1093.4,758.8 1093.8,757.0 1094.2,759.3 1094.6,758.5 1095.0,755.8 1095.5,754.4 1095.9,753.8 1096.3,756.8 1096.7,755.0 1097.1,754.0 1097.5,752.0 1098.0,751.0 1098.4,753.4 1098.8,750.3 1099.2,752.7 1099.6,749.5 1100.0,750.0 1100.5,748.1 1100.9,748.8 1101.3,745.8 1101.7,746.7 1102.1,745.1 1102.5,743.9 1103.0,743.1 1103.4,744.7 1103.8,746.1 1104.2,741.2 1104.6,744.4 1105.0,741.3 1105.5,740.2 1105.9,739.1 1106.3,739.9 1106.7,740.0 1107.1,739.0 1107.5,741.6 1108.0,742.3 1108.4,741.9 1108.8,745.8 1109.2,745.0 1109.6,742.4 1110.0,740.3 1110.4,735.1 1110.8,733.3 1111.2,733.9 1111.6,733.3 1112.0,733.3 1112.5,730.2 1112.9,733.2 1113.3,730.8 1113.7,733.3 1114.2,734.4 1114.6,740.8 1115.0,741.7 1115.4,745.9 1115.9,753.4 1116.3,756.7 1116.7,756.6 1117.1,757.1 1117.5,760.0 1117.9,767.1 1118.3,774.4 1118.8,781.9 1119.2,788.3 1119.6,802.5 1120.0,815.0 1120.4,829.2 1120.8,836.5 1121.2,841.9 1121.5,846.8 1121.9,854.4 1122.2,841.8 1122.6,828.0 1122.9,815.6 1123.2,819.2 1123.6,821.1 1124.0,824.9 1124.3,829.2 1124.7,822.5 1125.0,818.1 1125.4,809.8 1125.8,805.8 1126.1,802.4 1126.4,799.3 1126.7,796.7 1127.1,799.0 1127.5,796.9 1127.9,799.2 1128.3,800.0 1128.7,796.2 1129.2,789.6 1129.6,786.9 1130.0,780.0 1130.4,781.1 1130.8,784.1 1131.3,785.4 1131.7,788.3 1132.1,785.3 1132.5,782.4 1132.9,783.2 1133.3,780.0 1133.7,783.1 1134.2,786.4 1134.6,787.4 1135.0,790.0 1135.4,785.4 1135.8,784.0 1136.2,781.8 1136.7,776.9 1137.1,772.3 1137.5,770.0 1137.9,766.5 1138.3,764.3 1138.8,760.5 1139.2,756.1 1139.6,753.0 1140.0,748.3 1140.4,751.7 1140.8,757.6 1141.3,762.5 1141.7,770.0 1142.1,769.9 1142.5,770.2 1143.0,768.4 1143.4,771.9 1143.8,770.9 1144.2,770.8 1144.6,768.9 1145.0,766.9 1145.5,763.2 1145.9,760.2 1146.3,756.8 1146.7,753.3 1147.1,752.4 1147.5,752.4 1147.9,751.4 1148.3,748.3 1148.8,749.4 1149.2,745.6 1149.6,746.2 1150.0,745.0 1150.4,746.2 1150.8,742.5 1151.2,744.8 1151.7,742.4 1152.1,742.9 1152.5,739.7 1152.9,738.7 1153.3,740.0 1153.7,737.7 1154.2,737.9 1154.6,738.0 1155.0,735.3 1155.4,733.8 1155.8,732.0 1156.3,731.3 1156.7,730.0 1157.1,729.3 1157.5,728.3 1158.0,724.3 1158.4,724.1 1158.8,721.0 1159.2,720.0 1159.6,716.4 1160.0,713.0 1160.4,712.1 1160.8,710.0 1161.2,715.9 1161.7,720.9 1162.1,726.0 1162.5,731.7 1162.9,733.3 1163.3,732.3 1163.8,733.7 1164.2,733.3 1164.6,736.7 1165.0,741.5 1165.4,741.9 1165.8,745.8 1166.2,742.4 1166.6,740.6 1167.0,735.3 1167.5,734.4 1167.9,729.1 1168.3,726.7 1168.7,723.2 1169.1,723.0 1169.5,721.1 1170.0,718.0 1170.4,715.9 1170.8,715.0 1171.2,720.6 1171.7,721.7 1172.1,725.9 1172.5,728.3 1172.9,730.9 1173.4,734.5 1173.8,736.4 1174.3,738.8 1174.7,743.3 1175.1,735.9 1175.4,726.4 1175.8,716.7 1176.2,714.1 1176.6,712.9 1177.0,712.0 1177.5,708.0 1177.9,708.9 1178.3,706.7 1178.7,708.2 1179.2,705.9 1179.6,704.0 1180.0,701.6 1180.4,702.7 1180.8,702.1 1181.3,701.8 1181.7,700.0 1182.1,701.3 1182.5,697.9 1182.9,696.6 1183.3,700.2 1183.8,697.7 1184.2,698.8 1184.6,697.0 1185.0,697.9 1185.4,696.0 1185.8,695.0 1186.2,695.6 1186.6,694.6 1187.1,695.6 1187.5,694.2 1187.9,694.7 1188.3,691.6 1188.7,690.1 1189.2,689.6 1189.6,690.3 1190.0,690.0 1190.4,689.2 1190.8,688.8 1191.2,686.7 1191.7,688.1 1192.1,684.4 1192.5,681.4 1192.9,682.9 1193.3,681.7 1193.7,684.1 1194.1,683.8 1194.5,687.9 1195.0,686.9 1195.4,692.0 1195.8,691.7 1196.2,688.9 1196.7,688.9 1197.1,684.7 1197.5,682.8 1197.9,677.8 1198.3,678.5 1198.8,676.6 1199.2,671.7 1199.6,670.5 1200.0,673.2 1200.5,671.7 1200.9,675.8 1201.3,676.2 1201.7,675.0 1202.1,678.9 1202.5,680.2 1203.0,680.3 1203.4,683.4 1203.8,682.6 1204.2,686.7 1204.6,681.7 1205.0,680.8 1205.5,678.7 1205.9,673.4 1206.3,669.0 1206.7,668.3 1207.1,666.6 1207.5,668.6 1208.0,669.4 1208.4,672.6 1208.8,672.1 1209.2,671.7 1209.6,671.1 1210.0,668.0 1210.5,665.2 1210.9,663.0 1211.3,657.8 1211.7,656.7 1212.1,655.9 1212.5,652.9 1213.0,651.2 1213.4,648.3 1213.8,646.0 1214.2,644.2 1214.6,645.5 1215.0,644.9 1215.4,641.4 1215.8,644.3 1216.3,642.3 1216.7,639.4 1217.1,642.7 1217.5,640.8 1217.9,644.5 1218.3,644.0 1218.7,645.8 1219.2,646.7 1219.6,648.1 1220.0,651.6 1220.4,652.9 1220.8,655.0 1221.2,653.8 1221.6,651.9 1222.0,647.6 1222.5,648.6 1222.9,645.0 1223.3,643.3 1223.7,642.3 1224.1,640.7 1224.6,642.4 1225.0,642.2 1225.4,642.2 1225.8,641.9 1226.2,639.0 1226.7,639.5 1227.1,639.4 1227.5,638.3 1227.9,638.6 1228.3,637.5 1228.8,642.0 1229.2,643.7 1229.6,642.3 1230.0,643.3 1230.4,643.2 1230.8,636.4 1231.2,636.9 1231.7,633.6 1232.1,632.6 1232.5,628.9 1232.9,628.4 1233.3,625.0 1233.7,624.3 1234.2,625.6 1234.6,627.1 1235.0,627.9 1235.4,628.8 1235.8,632.3 1236.3,630.9 1236.7,631.7 1237.1,630.2 1237.5,626.1 1238.0,626.4 1238.4,625.8 1238.8,623.7 1239.2,620.8 1239.6,622.8 1240.0,620.0 1240.4,619.9 1240.8,618.1 1241.2,620.1 1241.7,620.0 1242.1,619.4 1242.5,614.2 1242.9,616.6 1243.3,615.0 1243.7,612.3 1244.1,611.9 1244.6,613.7 1245.0,613.3 1245.4,610.9 1245.8,608.5 1246.2,608.5 1246.7,606.6 1247.1,605.5 1247.5,605.8 1247.9,605.4 1248.3,610.5 1248.7,611.6 1249.2,608.7 1249.6,613.4 1250.0,614.0 1250.4,615.0 1250.8,615.0 1251.2,615.4 1251.7,618.5 1252.1,621.6 1252.5,622.7 1252.9,625.6 1253.3,622.7 1253.8,625.8 1254.2,628.3 1254.6,625.1 1255.0,622.9 1255.4,623.4 1255.8,620.8 1256.3,617.6 1256.7,614.1 1257.1,612.3 1257.5,608.3 1257.9,608.3 1258.3,603.0 1258.7,603.4 1259.2,603.4 1259.6,597.1 1260.0,596.8 1260.4,594.5 1260.8,593.3 1261.2,594.6 1261.7,591.8 1262.1,589.4 1262.5,590.1 1262.9,591.0 1263.3,589.8 1263.8,586.3 1264.2,588.3 1264.6,590.2 1265.0,587.4 1265.5,586.2 1265.9,589.6 1266.3,590.0 1266.7,589.2 1267.1,592.7 1267.5,592.8 1268.0,595.4 1268.4,602.1 1268.8,603.8 1269.2,606.7 1269.6,600.2 1270.0,599.3 1270.5,592.9 1270.9,591.2 1271.3,587.5 1271.7,591.3 1272.1,591.3 1272.5,595.0 1272.9,599.3 1273.3,600.8 1273.7,595.8 1274.1,594.0 1274.5,587.1 1275.0,586.9 1275.4,580.6 1275.8,578.3 1276.2,580.0 1276.7,585.2 1277.1,586.1 1277.5,586.7 1277.9,586.4 1278.3,591.1 1278.8,590.3 1279.2,592.2 1279.6,592.4 1280.0,595.0 1280.4,598.5 1280.8,608.2 1281.2,610.3 1281.7,614.6 1282.1,623.0 1282.5,626.7 1282.9,619.6 1283.4,616.2 1283.8,609.7 1284.3,604.2 1284.7,601.7 1285.1,607.3 1285.5,607.6 1285.9,611.5 1286.3,611.8 1286.7,616.7 1287.1,619.3 1287.5,621.1 1288.0,628.5 1288.4,627.5 1288.8,635.6 1289.2,636.7 1289.6,634.6 1289.9,626.2 1290.3,623.3 1290.7,626.2 1291.2,629.6 1291.6,632.9 1292.1,639.2 1292.5,643.3 1292.9,637.9 1293.3,634.2 1293.8,626.6 1294.2,619.4 1294.6,615.2 1295.0,610.0 1295.4,605.5 1295.8,602.2 1296.2,601.4 1296.6,601.2 1297.0,596.7 1297.4,596.8 1297.9,603.9 1298.3,605.5 1298.8,608.6 1299.2,608.3 1299.6,611.3 1300.0,612.3 1300.4,617.2 1300.8,618.3 1301.2,615.6 1301.7,616.8 1302.1,617.6 1302.5,615.0 1302.9,621.4 1303.3,628.9 1303.8,632.1 1304.2,640.0 1304.6,644.5 1305.0,643.5 1305.5,647.1 1305.9,651.1 1306.3,653.3 1306.7,659.4 1307.1,659.4 1307.5,664.2 1307.9,670.6 1308.3,673.3 1308.7,667.5 1309.2,663.6 1309.6,658.0 1310.0,655.0 1310.4,656.1 1310.8,653.7 1311.2,650.2 1311.7,652.0 1312.1,650.0 1312.5,646.7 1312.9,650.8 1313.3,654.6 1313.8,662.8 1314.2,666.7 1314.6,673.7 1315.0,678.2 1315.5,683.3 1315.9,691.0 1316.3,698.3 1316.7,695.7 1317.1,689.8 1317.5,685.1 1317.9,680.6 1318.3,675.0 1318.7,675.1 1319.2,679.3 1319.6,678.6 1320.0,682.1 1320.4,681.8 1320.8,683.4 1321.3,685.5 1321.7,685.0 1322.1,683.6 1322.5,678.5 1322.9,675.9 1323.3,670.0 1323.7,667.3 1324.2,664.5 1324.6,662.0 1325.0,660.2 1325.4,660.5 1325.8,655.4 1326.3,652.7 1326.7,651.7 1327.1,647.1 1327.5,647.8 1327.9,646.4 1328.3,641.3 1328.8,637.4 1329.2,638.0 1329.6,636.0 1330.0,631.7 1330.4,634.0 1330.8,637.1 1331.2,639.4 1331.7,642.9 1332.1,646.3 1332.5,648.3 1332.9,654.1 1333.3,654.7 1333.8,661.5 1334.2,663.3 1334.6,666.2 1335.0,670.0 1335.4,666.1 1335.9,657.6 1336.3,653.3 1336.7,658.9 1337.1,666.0 1337.5,671.0 1337.9,676.4 1338.3,680.0 1338.7,684.6 1339.1,689.6 1339.5,694.7 1340.0,696.6 1340.4,704.4 1340.8,706.7 1341.2,708.4 1341.6,707.2 1342.0,708.0 1342.5,709.8 1342.9,705.8 1343.3,708.3 1343.7,704.5 1344.1,704.5 1344.5,697.9 1345.0,698.2 1345.4,693.5 1345.8,691.7 1346.2,688.0 1346.6,684.5 1347.0,683.2 1347.5,681.1 1347.9,679.9 1348.3,676.7 1348.7,682.0 1349.2,684.7 1349.6,686.3 1350.0,691.7 1350.4,686.8 1350.8,683.8 1351.2,675.4 1351.6,672.7 1352.0,666.7 1352.4,664.1 1352.9,663.3 1353.3,663.3 1353.7,663.5 1354.1,660.9 1354.6,658.0 1355.0,658.3 1355.4,660.1 1355.8,659.0 1356.2,663.8 1356.7,664.4 1357.1,664.8 1357.5,667.7 1357.9,667.8 1358.3,670.0 1358.7,671.8 1359.2,674.2 1359.6,677.1 1360.0,676.0 1360.4,681.6 1360.8,682.9 1361.3,681.6 1361.7,685.0 1362.1,685.7 1362.5,681.4 1362.9,682.9 1363.3,678.6 1363.8,680.5 1364.2,679.3 1364.6,676.5 1365.0,675.0 1365.4,674.2 1365.8,672.9 1366.2,670.7 1366.7,667.5 1367.1,668.0 1367.5,667.0 1367.9,663.5 1368.3,661.7 1368.7,662.1 1369.1,658.3 1369.6,657.4 1370.0,657.2 1370.4,654.1 1370.8,655.1 1371.2,653.8 1371.7,649.5 1372.1,649.1 1372.5,648.3 1372.9,651.7 1373.3,651.3 1373.7,650.4 1374.2,655.7 1374.6,654.0 1375.0,656.9 1375.4,660.5 1375.8,660.0 1376.2,663.0 1376.6,664.5 1377.0,662.6 1377.5,665.4 1377.9,666.4 1378.3,670.0 1378.7,671.4 1379.1,666.6 1379.5,665.4 1380.0,667.1 1380.4,666.5 1380.8,665.2 1381.2,663.3 1381.6,664.1 1382.0,661.7 1382.5,658.0 1382.9,660.9 1383.3,658.3 1383.7,655.0 1384.2,659.1 1384.6,656.2 1385.0,655.6 1385.4,652.9 1385.8,655.2 1386.3,651.8 1386.7,651.7 1387.1,651.6 1387.5,648.5 1387.9,651.1 1388.3,651.4 1388.8,649.8 1389.2,650.3 1389.6,648.6 1390.0,648.0 1390.4,648.9 1390.8,646.7 1391.2,645.5 1391.7,647.0 1392.1,649.5 1392.5,649.6 1392.9,650.8 1393.3,650.3 1393.8,650.5 1394.2,650.0 1394.6,649.3 1395.0,645.8 1395.5,647.2 1395.9,646.1 1396.3,641.7 1396.7,641.7 1397.1,639.4 1397.5,638.0 1397.9,637.9 1398.3,632.8 1398.8,631.4 1399.2,633.8 1399.6,631.4 1400.0,628.3 1400.4,626.4 1400.8,623.8 1401.2,621.6 1401.7,620.9 1402.1,623.4 1402.5,620.0 1402.9,617.4 1403.3,621.0 1403.7,617.1 1404.2,619.9 1404.6,616.5 1405.0,618.6 1405.4,618.5 1405.8,616.7 1406.2,615.5 1406.7,612.8 1407.1,612.9 1407.5,610.3 1407.9,613.0 1408.3,609.0 1408.8,608.3 1409.2,606.7 1409.6,605.1 1410.0,605.1 1410.4,607.0 1410.8,606.3 1411.3,605.3 1411.7,605.4 1412.1,605.0 1412.5,601.7 1412.9,599.1 1413.3,600.6 1413.7,599.5 1414.2,603.5 1414.6,599.8 1415.0,603.3 1415.4,600.0 1415.8,601.7 1416.2,601.1 1416.7,602.8 1417.1,606.9 1417.5,604.5 1417.9,605.2 1418.3,609.4 1418.8,607.7 1419.2,610.0 1419.6,610.5 1420.0,610.0 1420.4,611.3 1420.8,610.3 1421.2,608.9 1421.7,608.5 1422.1,612.4 1422.5,609.2 1422.9,609.4 1423.3,610.8 1423.7,613.3 1424.1,617.3 1424.5,616.3 1425.0,618.2 1425.4,620.4 1425.8,623.3 1426.2,625.3 1426.6,629.9 1427.0,630.4 1427.5,632.5 1427.9,633.5 1428.3,636.7 1428.7,633.6 1429.1,632.0 1429.5,631.6 1430.0,629.9 1430.4,627.2 1430.8,623.3 1431.2,625.2 1431.7,632.2 1432.1,632.3 1432.5,635.8 1432.9,639.8 1433.3,641.3 1433.8,646.7 1434.2,650.0 1434.6,647.3 1435.0,638.0 1435.5,637.4 1435.9,629.5 1436.3,623.7 1436.7,620.0 1437.1,618.0 1437.5,613.4 1438.0,612.5 1438.4,612.5 1438.8,607.8 1439.2,606.7 1439.6,607.4 1440.0,604.3 1440.4,606.2 1440.8,605.4 1441.3,604.0 1441.7,602.7 1442.1,600.8 1442.5,601.7 1442.9,597.3 1443.3,597.2 1443.7,594.0 1444.2,594.4 1444.6,588.1 1445.0,585.6 1445.4,584.7 1445.8,583.3 1446.2,583.0 1446.6,583.5 1447.0,582.4 1447.5,579.7 1447.9,578.2 1448.3,580.0 1448.7,582.3 1449.1,580.6 1449.5,585.6 1449.9,586.0 1450.3,586.7 1450.7,587.6 1451.2,583.7 1451.6,582.5 1452.1,582.1 1452.5,580.0 1452.9,576.3 1453.3,579.0 1453.7,576.1 1454.2,575.2 1454.6,570.3 1455.0,570.0 1455.4,567.8 1455.8,568.3 1456.2,565.2 1456.6,563.4 1457.0,564.3 1457.5,559.6 1457.9,557.9 1458.3,555.0 1458.7,553.3 1459.1,553.1 1459.5,551.5 1460.0,555.3 1460.4,554.6 1460.8,555.0 1461.2,551.4 1461.6,552.6 1462.0,546.4 1462.5,549.4 1462.9,545.5 1463.3,543.3 1463.7,544.6 1464.2,542.1 1464.6,539.3 1465.0,540.7 1465.4,538.5 1465.8,539.8 1466.3,536.1 1466.7,538.3 1467.1,538.2 1467.5,537.6 1468.0,535.1 1468.4,532.6 1468.8,533.3 1469.2,530.5 1469.7,532.7 1470.1,531.1 1470.5,527.5 1470.9,528.2 1471.3,531.4 1471.7,529.2 1472.1,534.3 1472.5,533.8 1472.9,531.0 1473.3,535.0 1473.7,540.2 1474.1,543.0 1474.5,548.9 1474.9,550.2 1475.3,556.7 1475.7,554.6 1476.2,556.8 1476.6,553.5 1477.0,551.9 1477.4,551.7 1477.9,547.3 1478.3,548.3 1478.7,543.0 1479.2,541.3 1479.6,537.8 1480.0,535.2 1480.4,532.5 1480.8,526.5 1481.3,524.5 1481.7,522.5 1482.1,525.1 1482.5,525.4 1483.0,525.4 1483.4,522.6 1483.8,527.0 1484.2,526.7 1484.6,522.6 1485.0,521.6 1485.4,520.2 1485.8,520.0 1486.2,521.0 1486.7,515.1 1487.1,512.9 1487.5,509.7 1487.9,509.6 1488.3,509.9 1488.8,505.2 1489.2,504.2 1489.6,503.5 1490.0,501.4 1490.4,501.5 1490.8,501.0 1491.3,505.2 1491.7,505.1 1492.1,502.5 1492.5,502.5 1492.9,500.7 1493.3,497.3 1493.7,496.8 1494.2,491.7 1494.6,490.1 1495.0,490.2 1495.4,485.5 1495.8,484.2 1496.2,489.9 1496.6,489.3 1497.0,489.0 1497.5,494.6 1497.9,499.6 1498.3,500.0 1498.7,500.1 1499.2,503.8 1499.6,506.6 1500.0,508.3 1500.4,518.9 1500.9,522.1 1501.3,533.3 1501.7,527.3 1502.1,516.2 1502.5,512.6 1502.9,506.7 1503.3,496.7 1503.7,495.9 1504.1,490.4 1504.5,490.3 1505.0,489.9 1505.4,490.8 1505.8,486.7 1506.2,485.7 1506.7,483.9 1507.1,486.4 1507.5,484.2 1507.9,492.1 1508.3,500.1 1508.8,504.3 1509.2,510.0 1509.6,507.7 1510.0,504.6 1510.5,496.5 1510.9,491.6 1511.3,492.6 1511.7,486.7 1512.1,485.2 1512.5,484.5 1513.0,482.2 1513.4,475.4 1513.8,474.1 1514.2,473.3 1514.6,476.6 1515.0,475.7 1515.4,478.3 1515.8,477.5 1516.2,477.6 1516.6,469.4 1517.0,468.4 1517.5,464.8 1517.9,463.3 1518.3,462.5 1518.7,462.5 1519.1,466.6 1519.5,462.8 1520.0,465.2 1520.4,465.5 1520.8,466.7 1521.2,473.2 1521.6,475.0 1522.0,477.5 1522.4,470.9 1522.9,462.9 1523.3,458.0 1523.8,451.1 1524.2,447.5 1524.6,453.4 1525.0,451.6 1525.4,453.5 1525.8,458.3 1526.2,452.8 1526.6,451.1 1527.0,451.4 1527.5,448.3 1527.9,446.3 1528.3,443.3 1528.7,443.6 1529.1,439.1 1529.5,440.6 1530.0,439.5 1530.4,440.9 1530.8,436.7 1531.2,437.0 1531.6,436.5 1532.0,437.4 1532.5,441.4 1532.9,442.9 1533.3,441.7 1533.7,445.0 1534.0,453.0 1534.3,458.2 1534.7,460.0 1535.1,455.9 1535.5,450.7 1535.9,452.8 1536.3,446.7 1536.7,448.4 1537.1,456.5 1537.5,456.0 1537.9,460.0 1538.3,463.3 1538.7,459.7 1539.2,453.9 1539.6,452.4 1540.0,450.0 1540.4,444.2 1540.8,443.6 1541.2,438.0 1541.6,438.1 1542.0,434.2 1542.4,437.2 1542.8,442.4 1543.3,444.4 1543.7,445.0 1544.1,443.7 1544.5,442.8 1544.9,438.1 1545.3,436.7 1545.7,440.4 1546.0,440.8 1546.3,443.8 1546.7,443.3 1547.1,442.8 1547.5,438.6 1547.9,437.2 1548.3,431.7 1548.7,433.5 1549.2,444.5 1549.6,446.6 1550.0,451.7 1550.4,455.9 1550.8,458.3 1551.3,463.0 1551.7,468.3 1552.1,475.8 1552.5,481.6 1552.9,486.6 1553.3,496.7 1553.7,491.6 1554.1,486.3 1554.5,487.3 1555.0,477.5 1555.4,477.3 1555.8,471.7 1556.2,477.9 1556.7,484.0 1557.1,486.9 1557.5,490.0 1557.9,500.3 1558.3,508.5 1558.7,516.7 1559.0,532.1 1559.4,544.8 1559.7,555.8 1560.1,540.0 1560.4,526.9 1560.8,508.3 1561.2,515.9 1561.7,522.0 1562.1,528.4 1562.5,536.7 1562.9,529.1 1563.3,520.3 1563.8,510.5 1564.2,503.3 1564.6,497.7 1565.0,492.0 1565.4,489.4 1565.8,481.7 1566.2,476.4 1566.7,473.2 1567.1,473.0 1567.5,470.0 1567.9,465.7 1568.3,457.8 1568.8,455.9 1569.2,451.7 1569.6,453.1 1570.0,457.2 1570.4,464.7 1570.8,466.7 1571.2,460.3 1571.7,458.1 1572.1,456.6 1572.5,453.3 1572.9,453.4 1573.4,451.1 1573.8,447.4 1574.3,445.4 1574.7,443.3 1575.1,446.3 1575.5,445.6 1575.9,448.1 1576.3,446.9 1576.7,448.3 1577.1,442.1 1577.5,443.6 1577.9,435.2 1578.3,433.3 1578.7,429.6 1579.2,426.2 1579.6,420.8 1580.0,416.7 1580.4,415.6 1580.8,413.3 1581.2,415.7 1581.7,413.0 1582.1,415.9 1582.5,415.1 1582.9,412.3 1583.3,415.0 1583.7,412.1 1584.1,410.7 1584.5,407.6 1585.0,410.3 1585.4,403.9 1585.8,403.3 1586.2,406.0 1586.6,411.3 1587.0,420.0 1587.4,412.4 1587.9,410.2 1588.3,402.8 1588.8,401.0 1589.2,396.7 1589.6,400.7 1590.0,397.2 1590.5,401.4 1590.9,401.3 1591.3,400.0 1591.7,403.3 1592.1,400.4 1592.5,395.0 1592.9,395.4 1593.3,393.3 1593.7,391.8 1594.0,393.2 1594.3,396.8 1594.7,398.3 1595.1,395.1 1595.5,391.5 1595.9,389.0 1596.3,387.5 1596.7,386.7 1597.1,387.7 1597.5,385.5 1598.0,378.7 1598.4,374.4 1598.8,375.4 1599.2,373.3 1599.6,377.3 1600.0,374.0 1600.4,380.5 1600.8,378.3 1601.2,375.2 1601.7,371.7 1602.1,367.8 1602.6,366.8 1603.0,365.8 1603.4,372.4 1603.8,377.1 1604.2,385.0 1604.6,380.0 1605.0,378.2 1605.4,372.5 1605.8,368.3 1606.2,361.5 1606.7,357.7 1607.1,359.4 1607.6,350.7 1608.0,349.2 1608.4,351.9 1608.8,357.5 1609.2,363.1 1609.6,363.3 1610.0,366.7 1610.4,367.2 1610.8,365.0 1611.3,365.1 1611.7,361.7 1612.1,367.8 1612.5,372.2 1612.9,380.7 1613.3,386.7 1613.7,380.9 1614.2,370.9 1614.6,367.3 1615.0,360.0 1615.4,358.3 1615.8,356.4 1616.2,355.8 1616.7,353.5 1617.1,352.1 1617.5,351.7 1617.9,358.2 1618.4,356.4 1618.8,360.5 1619.3,360.2 1619.7,366.7 1620.1,361.0 1620.5,360.6 1620.9,354.2 1621.3,351.3 1621.7,345.8 1622.1,350.7 1622.5,350.9 1622.9,354.7 1623.3,353.3 1623.7,354.0 1624.1,347.3 1624.5,348.4 1625.0,342.1 1625.4,344.6 1625.8,341.7 1626.2,348.1 1626.7,350.3 1627.1,355.0 1627.6,356.2 1628.0,359.2 1628.4,357.5 1628.8,349.9 1629.2,346.6 1629.6,341.5 1630.0,340.8 1630.4,342.5 1630.8,351.5 1631.3,351.1 1631.7,358.3 1632.1,356.5 1632.5,349.1 1632.9,349.5 1633.3,343.3 1633.7,349.0 1634.1,344.7 1634.5,350.9 1634.9,353.8 1635.3,355.0 1635.7,352.7 1636.1,347.6 1636.4,349.0 1636.8,348.5 1637.2,345.0" fill="none" stroke="#32475b" stroke-width="2.7" stroke-linejoin="round" stroke-linecap="round"/>
<polyline points="235.8,630.8 236.2,636.6 236.7,646.7 237.1,650.4 237.5,651.6 237.9,650.3 238.4,653.3 238.8,654.7 239.2,656.7 239.6,662.6 240.0,668.4 240.4,669.4 240.9,674.0 241.3,683.6 241.7,686.7 242.1,689.7 242.5,694.8 242.9,694.0 243.3,699.7 243.7,703.3 244.1,700.1 244.6,693.0 245.0,690.0 245.4,683.7 245.8,674.8 246.3,661.0 246.7,655.0 247.1,656.7 247.6,664.1 248.0,668.3 248.4,666.3 248.8,658.6 249.2,653.1 249.6,649.8 250.0,642.9 250.4,639.5 250.8,636.7 251.2,640.5 251.7,645.0 252.1,647.6 252.5,653.3 252.9,647.6 253.3,643.3 253.8,640.6 254.2,636.7 254.6,631.1 255.0,625.2 255.4,626.0 255.8,620.0 256.3,616.2 256.7,609.1 257.1,609.9 257.5,602.5 257.9,606.3 258.3,603.2 258.8,606.0 259.2,610.0 259.6,611.5 260.0,611.7 260.0,592.5 260.4,599.7 260.9,600.8 261.3,607.7 261.7,610.0 262.1,603.6 262.6,593.7 263.0,587.5 263.4,595.9 263.8,605.6 264.2,613.2 264.6,618.9 265.0,626.7 265.4,628.1 265.9,625.5 266.3,627.6 266.7,630.0 267.1,644.7 267.5,655.3 267.9,666.9 268.3,681.7 268.7,704.2 269.1,695.8 269.6,688.1 270.0,678.3 270.4,682.4 270.9,683.9 271.3,687.3 271.7,690.8 272.1,685.8 272.5,682.2 272.9,675.7 273.3,669.8 273.7,665.3 274.1,657.5 274.5,652.5 274.9,651.3 275.3,645.0 275.8,656.4 276.2,662.8 276.6,670.2 277.1,677.6 277.6,688.1 278.0,696.7 278.4,694.7 278.8,688.8 279.2,682.9 279.6,680.0 280.0,673.3 280.4,670.6 280.9,671.0 281.3,672.3 281.7,669.0 282.1,667.1 282.6,664.9 283.0,665.0 283.3,673.3 283.7,666.8 284.1,662.4 284.5,650.0 285.0,647.8 285.4,641.3 285.8,634.9 286.2,625.8 286.6,633.4 287.0,640.0 287.5,644.5 287.9,650.9 288.3,656.7 288.7,661.3 289.1,664.2 289.6,673.8 290.0,677.1 290.4,680.0 290.8,686.7 291.2,682.1 291.6,677.4 292.1,672.1 292.5,668.3 292.9,664.4 293.3,662.4 293.8,659.9 294.2,656.8 294.6,652.8 295.0,650.0 295.4,646.5 295.8,647.0 296.2,646.0 296.7,647.7 297.1,648.6 297.5,645.8 297.9,652.2 298.3,655.0 298.7,649.1 299.1,641.6 299.6,630.6 300.0,626.6 300.4,617.9 300.8,609.2 301.2,608.4 301.6,609.8 302.1,611.6 302.5,618.0 302.9,616.6 303.3,620.0 303.7,618.8 304.1,623.3 304.6,622.8 305.0,622.4 305.4,624.2 305.8,627.5 306.2,622.8 306.6,615.6 307.1,611.4 307.5,609.2 307.9,602.7 308.4,597.0 308.8,593.0 309.2,588.3 309.6,589.7 310.0,596.5 310.4,601.3 310.9,604.3 311.3,608.3 311.7,617.7 312.1,619.8 312.5,624.2 312.9,615.0 313.3,610.1 313.7,604.1 314.1,591.6 314.5,584.1 314.9,577.6 315.3,572.5 315.6,574.8 316.0,571.9 316.4,576.3 316.7,575.8 317.1,574.6 317.5,571.3 317.9,566.8 318.4,569.5 318.8,565.9 319.2,561.6 319.6,557.2 320.0,556.7 320.4,559.4 320.9,559.3 321.3,562.2 321.7,563.3 322.1,559.2 322.5,558.4 322.9,551.5 323.4,550.3 323.8,552.0 324.2,548.4 324.6,541.6 325.0,540.0 325.4,544.5 325.8,542.7 326.2,546.0 325.8,542.9 325.4,535.4 325.0,527.5 325.4,523.8 325.8,519.6 326.2,514.8 326.7,518.0 327.1,508.9 327.5,511.5 327.9,509.5 328.3,503.6 328.8,500.0 329.2,496.7 329.6,501.1 330.0,501.0 330.4,498.2 330.8,495.9 331.2,494.1 331.7,493.0 332.1,491.1 332.5,492.5 332.9,483.8 333.3,472.0 333.8,460.1 334.2,449.4 334.6,443.8 335.0,432.5 335.4,424.6 335.8,420.0 336.2,413.8 336.7,418.4 337.1,428.9 337.5,435.1 337.9,434.1 338.3,441.6 338.8,450.0 339.2,444.0 339.6,444.7 340.0,438.5 340.4,430.4 340.8,424.8 341.2,422.5 341.7,417.3 342.1,412.0 342.5,406.1 342.9,394.5 343.3,392.4 343.8,382.5 344.1,372.9 344.5,360.0 344.9,366.7 345.4,378.0 345.8,378.3 346.2,387.5 346.7,383.8 347.1,372.7 347.6,367.8 348.0,365.0 348.4,367.3 348.8,359.8 349.2,363.3 349.7,360.5 350.1,361.3 350.5,357.0 350.9,379.9 351.2,405.0 351.6,424.2 352.0,446.0 352.3,434.0 352.7,428.3 353.0,415.0 353.4,429.0 353.8,444.9 354.1,457.4 354.5,467.5 354.9,456.7 355.3,452.1 355.8,440.6 356.2,432.1 356.6,424.5 357.0,420.0 357.4,428.0 357.9,432.3 358.3,437.6 358.8,440.0 359.2,428.1 359.6,419.7 360.1,410.5 360.5,397.5 360.9,405.9 361.2,416.8 361.6,423.4 362.0,435.0 362.4,443.6 362.9,456.9 363.3,473.6 363.8,482.5 364.2,470.9 364.6,461.7 365.0,445.9 365.4,432.4 365.8,424.4 366.2,410.0 366.7,411.6 367.1,403.7 367.5,408.0 367.9,402.1 368.3,401.2 368.7,406.5 369.1,398.3 369.5,401.0 369.9,401.6 370.3,410.6 370.8,408.6 371.2,408.8 371.6,412.0 372.0,417.5 372.4,434.5 372.9,457.5 373.3,471.6 373.8,493.8 374.2,489.6 374.6,478.2 375.0,475.5 375.4,467.8 375.8,455.7 376.2,450.0 376.7,454.3 377.1,462.3 377.6,465.7 378.0,475.0 378.4,467.2 378.8,453.4 379.2,444.1 379.6,442.9 380.0,430.0 380.4,432.0 380.8,438.0 381.2,440.4 381.7,443.0 382.1,444.6 382.5,454.9 382.9,459.0 383.3,462.6 383.8,462.5 384.2,467.4 384.6,476.2 385.0,487.2 385.4,497.8 385.8,502.5 386.2,511.5 386.6,519.2 387.0,526.0 387.4,514.1 387.9,506.0 388.3,494.1 388.7,483.5 389.1,472.1 389.6,463.4 390.0,455.0 390.4,463.6 390.8,464.2 391.2,470.5 391.7,475.3 392.1,482.3 392.5,483.8 392.9,475.9 393.4,468.3 393.8,461.5 394.2,454.5 394.6,451.7 395.1,445.1 395.5,435.0 395.9,439.0 396.3,444.9 396.7,452.2 397.1,458.1 397.5,463.9 397.9,466.8 398.3,470.7 398.8,480.0 399.2,474.7 399.6,470.1 400.0,470.4 400.4,463.3 400.8,460.0 401.2,460.0 401.7,466.4 402.1,469.0 402.5,478.2 402.9,481.2 403.3,489.3 403.7,489.3 404.1,497.2 404.5,502.5 404.9,500.4 405.4,490.8 405.8,493.0 406.2,482.9 406.6,483.2 407.1,480.5 407.5,472.5 407.9,469.3 408.4,459.7 408.8,452.3 409.2,449.8 409.6,447.3 410.1,436.6 410.5,432.5 410.9,441.9 411.2,442.2 411.6,454.5 412.0,457.5 412.4,452.8 412.9,453.9 413.3,457.5 413.7,455.6 414.1,455.4 414.6,453.8 415.0,450.0 415.4,447.2 415.8,442.1 416.2,433.2 416.7,430.6 417.1,423.6 417.5,423.4 417.9,418.3 418.3,410.2 418.8,407.5 419.2,400.2 419.6,404.2 420.0,399.3 420.4,393.5 420.8,389.8 421.2,388.8 421.7,381.8 422.1,377.7 422.5,375.0 422.9,370.6 423.3,366.9 423.8,361.8 424.2,364.3 424.6,359.3 425.0,357.0 425.4,361.5 425.8,360.8 426.2,367.2 426.7,369.2 427.1,372.9 427.5,380.0 427.9,375.6 428.4,378.2 428.8,372.1 429.2,369.9 429.6,369.4 430.1,363.7 430.5,363.8 430.9,363.5 431.2,372.1 431.6,375.9 432.0,380.0 432.4,385.9 432.9,388.8 433.3,395.5 433.7,400.5 434.1,401.0 434.6,407.8 435.0,412.5 435.4,409.3 435.8,404.2 436.2,402.8 436.6,401.0 437.0,397.5 437.4,409.2 437.8,417.6 438.2,420.7 438.7,432.0 439.1,435.5 439.5,447.5 439.9,449.1 440.4,457.6 440.8,465.4 441.2,464.9 441.6,474.5 442.1,480.4 442.5,482.5 442.9,479.4 443.3,480.6 443.8,477.5 444.2,489.7 444.6,495.7 445.0,507.7 445.4,517.5 445.8,526.1 446.2,535.0 446.7,538.3 447.1,539.5 447.5,540.7 447.9,538.8 448.3,536.9 448.8,540.0 449.2,551.2 449.6,563.9 450.0,578.8 450.4,568.5 450.8,559.0 451.2,543.4 451.6,537.0 452.0,525.0 452.4,527.4 452.8,525.6 453.2,527.6 453.7,525.9 454.1,530.8 454.5,530.0 454.9,514.2 455.4,508.5 455.8,494.8 456.2,480.0 456.7,483.1 457.1,482.4 457.5,489.4 457.9,491.8 458.3,487.7 458.8,492.5 459.2,487.9 459.6,481.8 460.0,473.7 460.4,467.4 460.8,458.7 461.2,455.8 461.7,449.6 462.1,438.2 462.5,432.5 462.9,433.3 463.3,428.6 463.8,424.8 464.2,424.4 464.6,421.1 465.0,422.5 465.4,433.3 465.8,441.2 466.2,445.0 466.7,438.5 467.1,438.9 467.5,433.9 467.9,428.2 468.3,426.2 468.7,422.3 469.1,423.0 469.5,417.5 469.9,426.6 470.4,441.3 470.8,456.4 471.2,470.0 471.7,461.6 472.1,461.6 472.5,456.8 472.9,453.9 473.3,444.2 473.7,440.2 474.1,437.5 474.5,432.5 474.9,436.0 475.4,443.9 475.8,446.6 476.2,455.4 476.6,461.6 477.1,467.0 477.5,470.0 477.9,475.9 478.3,474.8 478.8,476.6 479.2,481.6 479.6,483.2 480.0,483.9 480.4,484.7 480.8,486.2 481.2,490.0 481.7,483.4 482.1,485.1 482.5,476.3 482.9,477.4 483.3,472.3 483.8,471.9 484.2,466.7 484.6,464.8 485.0,457.5 485.4,457.2 485.8,462.5 486.2,465.6 486.7,466.0 487.1,470.0 487.5,471.4 487.9,475.2 488.3,473.7 488.8,480.0 489.2,475.0 489.6,470.4 490.0,464.7 490.4,460.9 490.8,459.3 491.2,452.5 491.7,452.9 492.1,450.4 492.5,450.5 492.9,447.4 493.3,444.9 493.8,442.3 494.2,443.4 494.6,444.9 495.0,446.2 495.4,444.7 495.8,441.1 496.2,440.0 496.7,445.6 497.1,443.0 497.5,447.7 497.9,445.9 498.3,450.3 498.8,450.0 499.2,451.1 499.6,442.9 500.0,439.0 500.4,439.9 500.8,436.4 501.2,432.2 501.7,426.5 502.1,426.9 502.5,425.0 502.9,418.9 503.3,413.2 503.7,411.5 504.1,403.7 504.5,397.5 504.9,402.7 505.4,407.3 505.8,409.2 506.2,410.3 506.6,415.6 507.1,417.9 507.5,420.0 507.9,426.2 508.3,431.1 508.8,434.3 509.2,441.0 509.6,446.1 510.0,450.0 510.4,455.7 510.8,456.7 511.2,459.4 511.7,461.0 512.1,463.6 512.5,464.2 512.9,464.4 513.3,466.0 513.8,470.0 514.2,468.7 514.6,467.1 515.0,461.6 515.4,455.6 515.8,458.0 516.2,452.5 516.7,461.0 517.1,469.5 517.5,474.9 517.9,487.0 518.3,497.4 518.8,503.6 519.2,511.7 519.6,522.5 520.0,530.0 520.4,522.1 520.8,521.2 521.2,519.9 521.7,513.6 522.1,507.1 522.5,504.7 522.9,499.7 523.3,492.3 523.8,490.0 524.2,491.2 524.6,499.5 525.0,498.3 525.4,500.2 525.8,509.1 526.2,510.0 526.7,506.8 527.1,502.4 527.5,500.1 527.9,498.4 528.3,490.9 528.8,490.0 529.2,493.6 529.6,496.6 530.0,499.8 530.4,498.3 530.8,503.3 531.2,503.0 531.7,507.9 532.1,507.6 532.5,512.5 532.9,509.2 533.3,504.4 533.8,495.0 534.2,488.8 534.6,488.9 535.0,480.0 535.4,489.1 535.8,497.6 536.2,499.0 536.6,512.9 537.0,517.5 537.4,512.9 537.9,505.2 538.3,500.5 538.7,497.4 539.1,492.1 539.5,482.2 540.0,480.0 540.4,470.9 540.8,471.7 541.2,462.5 541.7,462.9 542.1,467.4 542.5,466.8 542.9,466.7 543.3,464.8 543.8,467.7 544.2,465.5 544.6,466.4 545.0,471.7 545.4,469.8 545.8,473.6 546.2,472.5 546.7,468.0 547.1,469.2 547.5,466.7 547.9,461.0 548.3,456.9 548.8,456.7 549.2,454.9 549.6,449.3 550.0,450.0 550.4,443.6 550.8,438.7 551.2,439.1 551.7,437.6 552.1,428.3 552.5,422.9 552.9,424.4 553.3,421.5 553.8,415.0 554.2,424.1 554.6,426.5 555.0,429.6 555.4,438.8 555.8,438.3 556.2,448.2 556.7,448.8 557.1,456.4 557.5,462.5 557.9,463.7 558.3,464.1 558.8,463.7 559.2,465.4 559.6,471.2 560.0,470.0 560.4,465.8 560.8,462.9 561.2,456.1 561.7,456.2 562.1,449.2 562.5,446.7 562.9,449.7 563.3,454.4 563.8,457.2 564.2,452.0 564.6,460.1 565.0,460.0 565.4,466.9 565.9,467.0 566.3,471.6 566.7,476.7 567.1,480.8 567.5,486.9 567.9,486.4 568.3,493.5 568.7,494.2 569.1,492.2 569.6,483.7 570.0,485.5 570.4,474.8 570.8,471.8 571.3,471.9 571.7,466.7 572.1,459.7 572.5,458.7 572.9,453.1 573.4,452.2 573.8,451.6 574.2,448.6 574.6,438.1 575.0,438.3 575.4,439.2 575.8,449.9 576.2,448.0 576.7,454.3 577.1,457.6 577.5,465.0 577.9,458.2 578.3,454.2 578.7,455.4 579.1,452.6 579.5,448.6 579.9,446.3 580.3,440.0 580.7,446.3 581.2,449.1 581.6,456.0 582.0,463.7 582.4,466.1 582.9,468.0 583.3,475.0 583.7,472.2 584.1,479.4 584.5,477.3 585.0,476.1 585.4,478.6 585.8,478.3 586.2,476.3 586.6,473.5 587.1,467.4 587.5,468.3 587.9,470.0 588.4,473.3 588.8,474.5 589.3,482.6 589.7,482.5 590.1,477.8 590.5,475.4 590.9,471.7 591.3,467.7 591.7,461.7 592.1,460.9 592.5,458.7 592.9,452.2 593.3,451.7 593.6,458.2 593.9,454.5 594.2,460.0 594.6,460.8 595.0,457.8 595.5,455.3 595.9,446.5 596.3,447.5 596.7,447.8 597.1,457.0 597.5,457.8 597.9,460.5 598.3,465.0 598.7,472.5 599.1,469.0 599.6,476.5 600.0,480.0 600.4,477.5 600.9,473.0 601.3,473.0 601.7,471.7 602.1,477.3 602.5,482.6 602.9,480.1 603.3,487.9 603.7,491.7 604.1,483.9 604.5,484.6 605.0,474.5 605.4,469.4 605.8,468.3 606.2,464.7 606.6,464.8 607.0,458.9 607.4,454.8 607.8,455.0 608.2,459.6 608.7,462.1 609.1,464.8 609.6,462.8 610.0,466.7 610.4,466.9 610.9,466.4 611.3,469.6 611.7,470.0 612.1,466.3 612.5,464.1 612.9,465.2 613.3,464.2 613.7,458.3 614.1,457.3 614.5,451.9 615.0,454.5 615.4,451.3 615.8,450.0 616.2,456.1 616.6,456.2 617.0,459.3 617.5,460.4 617.9,461.4 618.3,463.3 618.7,463.1 619.1,459.3 619.5,451.7 619.9,447.3 620.3,446.7 620.7,440.8 621.2,437.2 621.6,428.9 622.1,426.1 622.5,422.5 622.9,427.1 623.3,426.9 623.8,437.1 624.2,439.8 624.6,441.2 625.0,446.7 625.4,448.4 625.9,452.2 626.3,455.3 626.7,460.0 627.1,467.8 627.6,471.7 628.0,477.5 628.4,476.2 628.8,471.8 629.2,476.2 629.6,470.2 630.0,470.0 630.4,471.2 630.9,471.7 631.3,481.2 631.7,480.0 632.1,483.2 632.5,489.8 632.9,493.2 633.3,493.3 633.6,495.6 634.0,493.2 634.4,492.7 634.7,488.3 635.1,496.0 635.5,499.5 635.9,499.1 636.3,506.5 636.7,510.8 637.1,510.1 637.5,511.9 638.0,509.1 638.4,507.3 638.8,506.4 639.2,503.3 639.6,505.6 640.0,513.2 640.5,514.3 640.9,515.9 641.3,519.7 641.7,523.3 642.1,530.5 642.5,531.0 642.9,532.2 643.3,538.3 643.6,533.1 643.9,534.1 644.2,530.0 644.6,534.6 645.0,541.2 645.4,540.3 645.8,546.7 646.1,544.9 646.4,546.0 646.7,543.3 647.1,549.7 647.6,559.5 648.0,571.7 648.4,574.8 648.8,575.7 649.2,580.0 649.6,583.3 650.0,590.1 650.4,598.3 650.8,603.3 651.0,607.7 651.3,611.7 651.7,607.0 652.1,605.0 652.5,607.9 652.9,604.6 653.3,601.7 653.6,605.7 653.9,616.2 654.2,620.0 654.6,618.7 655.0,622.5 655.4,627.2 655.8,626.7 656.2,633.0 656.6,635.4 657.1,644.0 657.5,646.7 657.9,646.4 658.4,647.2 658.8,646.5 659.2,643.3 659.6,650.4 660.0,658.3 660.3,700.0 660.7,706.9 661.2,712.1 661.6,720.2 662.0,725.4 662.4,730.9 662.9,737.3 663.3,741.7 663.7,749.4 664.1,751.0 664.5,756.1 665.0,763.9 665.4,769.3 665.8,773.3 666.2,775.9 666.6,778.2 667.0,780.4 667.5,785.0 667.9,787.1 668.3,788.3 668.6,792.6 668.9,794.1 669.2,800.0 669.6,814.0 670.0,825.0 670.4,834.4 670.9,842.9 671.3,852.9 671.7,863.3 672.1,855.7 672.5,846.7 672.9,845.1 673.4,845.8 673.8,846.9 674.3,849.5 674.7,848.3 675.1,842.3 675.5,836.2 675.9,827.5 676.3,820.6 676.7,813.3 677.1,805.2 677.5,796.7 677.9,790.5 678.4,784.2 678.8,779.2 679.3,773.5 679.7,765.0 680.1,764.8 680.5,766.1 680.9,764.8 681.3,765.0 681.7,766.2 682.1,766.9 682.5,766.7 682.9,770.3 683.4,775.6 683.8,775.1 684.2,780.0 684.6,787.0 685.0,795.0 685.5,800.2 685.9,805.8 686.3,811.4 686.7,818.3 687.1,811.6 687.5,807.6 687.9,801.1 688.3,793.8 688.7,786.7 689.1,792.5 689.5,796.6 690.0,800.2 690.4,802.2 690.8,806.7 691.2,799.9 691.6,794.7 692.0,786.1 692.5,781.2 692.9,773.3 693.3,766.7 693.7,762.3 694.1,759.3 694.5,754.0 695.0,751.5 695.4,748.2 695.8,745.0 696.2,739.3 696.6,736.7 697.0,733.8 697.5,733.5 697.9,728.8 698.3,725.0 698.7,728.5 699.1,736.7 699.6,737.5 700.0,743.3 700.4,741.4 700.8,740.5 701.2,738.3 701.6,735.0 702.0,733.3 702.4,740.0 702.9,743.9 703.3,750.4 703.8,754.6 704.2,760.0 704.6,759.5 705.0,755.5 705.5,749.7 705.9,747.0 706.3,748.4 706.7,743.3 707.1,746.6 707.5,750.2 707.9,755.9 708.3,761.7 708.7,759.5 709.1,759.7 709.6,754.9 710.0,753.3 710.4,756.5 710.9,759.1 711.3,757.6 711.7,761.7 712.1,768.9 712.5,777.3 712.9,781.9 713.3,788.3 713.6,792.9 713.9,796.6 714.2,801.7 714.6,801.6 715.0,799.6 715.4,793.6 715.8,793.3 716.2,795.2 716.6,796.3 717.1,799.1 717.5,800.0 717.9,802.5 718.3,807.3 718.8,811.6 719.2,816.6 719.6,822.1 720.0,825.0 720.4,831.5 720.9,836.2 721.3,840.7 721.7,845.0 722.1,844.6 722.5,847.1 722.9,849.4 723.3,850.0 723.6,860.0 724.0,871.7 724.4,883.9 724.7,893.3 725.1,876.1 725.5,863.0 725.9,844.3 726.3,830.0 726.7,835.8 727.1,844.1 727.6,847.6 728.0,855.0 728.4,850.6 728.8,845.8 729.2,841.7 729.6,847.8 730.0,852.8 730.4,854.6 730.8,860.0 731.2,857.3 731.7,856.2 732.1,852.2 732.6,848.2 733.0,846.7 733.4,843.8 733.8,838.2 734.1,834.9 734.5,829.1 734.9,829.2 735.3,823.3 735.7,829.6 736.2,836.4 736.6,842.2 737.1,845.1 737.5,851.7 737.9,853.2 738.4,854.1 738.8,856.7 739.3,858.3 739.7,858.3 740.1,852.9 740.5,848.7 740.9,846.0 741.3,840.8 741.7,845.6 742.1,849.7 742.5,855.2 742.9,861.8 743.3,866.7 743.7,870.8 744.1,875.9 744.6,878.1 745.0,881.7 745.4,878.3 745.9,872.9 746.3,870.1 746.7,866.7 747.1,870.0 747.5,875.7 747.9,878.3 748.3,883.3 748.7,886.5 749.1,891.2 749.6,895.7 750.0,900.0 750.4,905.0 750.9,911.5 751.3,916.7 751.7,917.3 752.1,921.2 752.5,922.3 752.9,923.5 753.3,925.0 753.7,921.5 754.1,920.3 754.6,919.4 755.0,916.7 755.4,921.3 755.9,926.0 756.3,930.4 756.7,933.3 757.1,939.0 757.5,945.8 757.9,951.6 758.3,958.3 758.6,962.7 759.0,968.2 759.4,973.9 759.7,980.0 760.1,972.9 760.5,968.1 760.9,962.6 761.3,956.2 761.7,950.0 762.1,946.8 762.5,941.7 762.9,937.8 763.3,935.0 763.7,940.9 764.1,947.4 764.5,951.8 764.9,956.2 765.3,963.3 765.7,955.9 766.2,950.7 766.6,945.6 767.1,938.1 767.5,933.3 767.9,936.4 768.3,941.6 768.7,945.0 769.1,940.8 769.5,933.2 770.0,928.3 770.4,922.4 770.8,916.7 771.2,909.3 771.6,904.4 772.1,897.9 772.5,893.3 772.9,899.2 773.3,906.7 773.7,903.4 774.1,899.0 774.6,892.6 775.0,890.0 775.4,892.7 775.8,899.1 776.2,901.2 776.7,906.1 777.1,910.1 777.5,915.0 777.9,908.2 778.3,902.9 778.8,897.9 779.2,893.5 779.6,890.1 780.0,883.3 780.4,881.0 780.8,876.8 781.2,875.7 781.7,871.4 782.1,869.5 782.5,866.7 782.9,861.9 783.4,860.1 783.8,853.6 784.2,850.0 784.6,853.3 785.0,854.7 785.4,857.5 785.8,858.3 786.2,854.6 786.6,851.4 787.1,845.5 787.5,841.7 787.9,841.8 788.3,841.0 788.8,840.1 789.2,839.7 789.6,839.0 790.0,838.3 790.4,836.0 790.9,836.1 791.3,833.1 791.7,830.9 792.1,827.0 792.6,826.9 793.0,825.0 793.4,826.3 793.8,829.2 794.2,832.7 794.6,835.8 795.0,838.3 795.4,836.0 795.9,834.9 796.3,834.7 796.7,833.3 797.1,837.4 797.5,841.3 797.9,844.3 798.3,850.0 798.7,849.0 799.1,849.5 799.5,848.5 800.0,848.0 800.4,848.6 800.8,846.7 801.2,850.9 801.6,854.1 802.0,854.9 802.5,859.3 802.9,864.1 803.3,866.7 803.7,868.8 804.1,874.9 804.5,875.4 805.0,881.4 805.4,882.4 805.8,886.7 806.2,882.6 806.6,877.4 807.0,870.2 807.5,867.0 807.9,859.0 808.3,855.0 808.7,851.4 809.1,844.5 809.6,839.8 810.0,835.0 810.4,838.5 810.9,845.4 811.3,849.1 811.7,855.0 812.1,852.9 812.5,850.6 813.0,847.1 813.4,841.9 813.8,842.9 814.2,838.3 814.6,843.9 815.0,846.7 815.5,849.5 815.9,854.1 816.3,859.3 816.7,861.7 817.1,859.6 817.5,858.9 818.0,856.2 818.4,853.6 818.8,853.6 819.2,850.0 819.6,844.6 820.0,840.4 820.4,833.2 820.8,830.0 821.2,827.7 821.6,823.6 822.0,824.2 822.5,819.0 822.9,817.0 823.3,816.7 823.7,817.3 824.1,819.6 824.5,823.4 825.0,825.0 825.4,826.8 825.8,830.0 826.2,836.7 826.6,841.1 827.0,844.8 827.5,850.0 827.9,854.8 828.3,858.3 828.7,860.4 829.1,865.6 829.5,866.5 830.0,870.8 830.4,873.1 830.8,876.7 831.2,868.3 831.6,863.5 832.1,857.0 832.5,848.3 832.9,846.7 833.4,848.1 833.8,845.2 834.2,845.0 834.6,840.3 835.0,836.4 835.5,830.3 835.9,822.0 836.3,818.3 836.7,813.3 837.1,807.0 837.5,801.7 837.9,801.3 838.3,804.2 838.8,803.1 839.2,804.8 839.6,805.0 840.0,805.0 840.4,803.5 840.9,800.0 841.3,801.1 841.7,800.6 842.1,795.8 842.6,796.4 843.0,794.2 843.4,796.2 843.8,797.5 844.2,801.2 844.6,804.3 845.0,802.2 845.4,808.0 845.8,808.3 846.2,805.9 846.6,806.0 847.1,801.3 847.5,801.8 847.9,797.2 848.4,796.3 848.8,797.3 849.2,793.3 849.6,796.5 850.0,799.6 850.4,800.6 850.8,803.3 851.2,802.0 851.6,801.0 852.1,801.1 852.5,799.7 852.9,796.3 853.4,796.2 853.8,795.5 854.2,794.2 854.6,795.2 855.0,797.5 855.5,797.8 855.9,795.4 856.3,797.1 856.7,798.3 857.1,798.3 857.5,799.6 857.9,801.5 858.3,805.0 858.7,809.9 859.1,818.6 859.6,824.4 860.0,830.0 860.4,831.8 860.8,830.2 861.2,830.2 861.7,834.1 862.1,834.1 862.5,833.3 862.9,831.8 863.3,824.6 863.8,822.9 864.2,820.5 864.6,817.6 865.0,813.3 865.4,811.7 865.9,806.8 866.3,802.8 866.7,800.0 867.1,801.0 867.5,807.6 867.9,811.5 868.4,814.2 868.8,816.3 869.2,818.1 869.6,820.8 870.0,825.0 870.4,827.8 870.8,830.1 871.2,831.9 871.7,830.3 872.1,833.7 872.5,835.0 872.9,832.2 873.3,829.0 873.7,827.6 874.1,825.3 874.6,821.6 875.0,818.6 875.4,815.7 875.8,812.0 876.2,816.2 876.6,819.3 877.0,821.6 877.5,827.4 877.9,828.2 878.3,833.3 878.7,838.9 879.1,842.9 879.6,848.5 880.0,853.3 880.4,855.2 880.8,856.0 881.3,859.3 881.7,857.9 882.1,858.4 882.5,863.4 883.0,862.3 883.4,863.6 883.8,865.8 884.2,860.7 884.6,856.5 885.0,853.2 885.4,847.3 885.8,841.7 886.2,844.3 886.6,848.5 887.1,851.5 887.5,855.0 887.9,851.4 888.3,847.4 888.8,842.8 889.2,840.1 889.6,836.5 890.0,833.3 890.4,829.9 890.8,830.2 891.2,826.1 891.7,823.0 892.1,822.5 892.5,820.0 892.9,822.8 893.3,823.9 893.8,824.7 894.2,826.5 894.6,826.2 895.0,828.3 895.4,826.0 895.8,825.6 896.2,825.2 896.7,824.0 897.1,824.0 897.5,823.3 897.9,820.7 898.3,819.6 898.8,819.0 899.2,817.6 899.6,819.1 900.0,816.7 900.4,814.6 900.8,810.9 901.2,809.7 901.7,809.4 902.1,805.9 902.5,803.3 902.9,801.2 903.3,798.2 903.7,795.1 904.1,794.7 904.6,790.0 905.0,790.9 905.4,785.3 905.8,785.0 906.2,789.9 906.6,792.0 907.1,797.1 907.5,800.0 907.9,798.3 908.3,794.2 908.7,793.9 909.1,789.7 909.6,788.4 910.0,786.9 910.4,784.4 910.8,783.3 911.2,782.0 911.6,781.4 912.1,776.4 912.5,776.6 912.9,771.6 913.4,771.8 913.8,768.1 914.2,766.7 914.6,763.5 915.0,758.1 915.5,758.3 915.9,751.9 916.3,749.9 916.7,746.7 917.1,747.6 917.5,752.1 918.0,753.0 918.4,755.0 918.8,757.6 919.2,758.3 919.6,755.7 920.0,753.4 920.5,755.7 920.9,751.9 921.3,752.9 921.7,750.0 922.1,754.7 922.5,755.6 922.9,755.6 923.3,760.0 923.7,758.4 924.1,754.0 924.6,748.8 925.0,746.7 925.4,743.6 925.8,743.4 926.2,739.8 926.6,742.0 927.1,739.4 927.5,738.3 927.9,734.4 928.3,733.3 928.7,733.0 929.1,726.4 929.6,726.9 930.0,722.0 930.4,718.2 930.9,716.3 931.3,714.2 931.7,713.3 932.1,713.7 932.6,710.8 933.0,710.4 933.4,710.1 933.8,707.4 934.3,708.4 934.7,706.7 935.1,710.3 935.5,714.2 935.9,714.7 936.3,719.2 936.7,720.0 937.1,728.8 937.5,734.1 938.0,738.8 938.4,744.4 938.8,750.0 939.2,758.3 939.6,755.8 940.0,750.0 940.4,743.8 940.8,741.6 941.2,736.7 941.6,730.3 942.0,728.3 942.4,730.5 942.9,737.3 943.3,739.5 943.8,745.1 944.2,746.7 944.6,744.1 945.0,735.5 945.4,733.8 945.9,726.0 946.3,723.4 946.7,718.9 947.1,717.0 947.5,710.0 947.9,710.5 948.3,708.4 948.8,710.1 949.2,710.1 949.6,708.4 950.0,710.0 950.4,712.6 950.9,718.6 951.3,722.5 951.7,723.3 952.1,720.0 952.5,711.6 953.0,711.3 953.4,704.2 953.8,701.5 954.2,695.0 954.6,689.5 955.0,685.6 955.4,686.0 955.8,680.0 956.2,681.3 956.6,682.5 957.1,687.5 957.5,690.0 957.9,689.4 958.4,685.2 958.8,679.4 959.2,676.7 959.6,674.5 960.0,668.4 960.4,663.7 960.8,656.7 961.2,653.7 961.6,648.3 962.0,645.0 962.4,651.1 962.9,652.1 963.3,658.5 963.8,659.9 964.2,663.3 964.6,668.4 965.0,668.7 965.5,671.2 965.9,674.9 966.3,676.2 966.7,680.0 967.1,679.2 967.5,682.7 968.0,685.3 968.4,683.2 968.8,687.6 969.2,686.7 969.6,682.5 970.0,676.6 970.5,668.7 970.9,666.2 971.3,659.2 971.7,651.7 972.1,652.7 972.5,650.5 973.0,653.8 973.4,651.1 973.8,656.8 974.2,655.0 974.6,664.1 975.0,674.3 975.4,685.3 975.8,695.0 976.2,693.6 976.6,691.2 977.0,688.5 977.5,687.2 977.9,686.2 978.3,681.8 978.7,680.0 979.1,682.7 979.5,687.0 980.0,685.2 980.4,688.8 980.8,693.3 981.2,694.8 981.7,696.8 982.1,702.9 982.6,701.4 983.0,705.8 983.4,696.9 983.8,691.2 984.2,685.4 984.6,680.3 985.0,671.7 985.4,673.1 985.8,670.9 986.2,668.1 986.7,663.4 987.1,662.2 987.5,663.3 987.9,660.3 988.4,657.7 988.8,650.7 989.2,648.3 989.6,652.7 990.0,651.9 990.4,653.8 990.8,655.0 991.2,651.2 991.6,643.6 992.0,639.7 992.5,639.8 992.9,631.3 993.3,628.3 993.7,621.4 994.1,618.2 994.6,616.6 995.0,610.8 995.4,614.9 995.9,620.3 996.3,626.3 996.7,633.3 997.1,636.9 997.5,642.2 997.9,643.4 998.3,648.3 998.7,654.2 999.1,658.4 999.5,661.2 999.9,660.6 1000.3,666.7 1000.7,670.3 1001.2,678.4 1001.6,682.7 1002.1,683.3 1002.5,690.0 1002.9,695.5 1003.4,700.9 1003.8,708.8 1004.2,713.3 1004.6,718.8 1005.0,728.2 1005.4,738.3 1005.8,745.0 1006.2,755.6 1006.6,760.3 1007.1,771.7 1007.5,780.0 1007.9,774.9 1008.4,770.1 1008.8,762.2 1009.2,756.7 1009.6,761.5 1010.0,760.3 1010.4,762.4 1010.8,766.7 1011.2,768.3 1011.6,773.8 1012.1,774.9 1012.5,780.0 1012.9,785.2 1013.4,791.1 1013.8,796.8 1014.2,805.0 1014.6,811.4 1014.9,813.2 1015.3,818.3 1015.7,813.6 1016.1,806.0 1016.6,797.1 1017.0,791.7 1017.4,785.3 1017.9,772.8 1018.3,766.7 1018.7,766.5 1019.1,759.5 1019.6,758.0 1020.0,756.7 1020.4,761.1 1020.9,762.7 1021.3,770.4 1021.7,773.3 1022.1,767.6 1022.5,767.3 1022.9,759.8 1023.3,758.3 1023.7,759.3 1024.2,758.6 1024.6,759.8 1025.0,761.7 1025.4,756.7 1025.8,751.1 1026.3,746.2 1026.7,741.7 1027.1,739.3 1027.5,733.9 1027.9,730.7 1028.3,729.2 1028.7,732.4 1029.2,732.7 1029.6,738.2 1030.0,738.3 1030.4,736.5 1030.8,735.4 1031.2,731.7 1031.7,730.3 1032.1,729.4 1032.5,730.0 1032.9,729.5 1033.3,728.6 1033.8,729.0 1034.2,725.2 1034.6,725.5 1035.0,723.3 1035.4,721.4 1035.8,718.9 1036.2,719.6 1036.7,720.0 1037.1,719.4 1037.5,716.7 1037.9,716.0 1038.3,712.3 1038.8,707.8 1039.2,704.7 1039.6,701.4 1040.0,698.3 1040.4,694.8 1040.8,692.6 1041.2,688.7 1041.7,686.9 1042.1,681.4 1042.5,678.3 1042.9,684.8 1043.3,693.5 1043.8,699.3 1044.2,705.0 1044.6,705.6 1045.0,706.2 1045.4,707.9 1045.8,706.7 1046.2,703.9 1046.7,698.7 1047.1,695.6 1047.6,693.9 1048.0,690.0 1048.4,691.7 1048.8,698.1 1049.3,704.6 1049.7,706.7 1050.1,711.4 1050.4,718.6 1050.8,725.0 1051.2,737.3 1051.7,749.6 1052.1,759.7 1052.5,770.0 1052.9,767.8 1053.3,763.9 1053.8,761.4 1054.2,759.5 1054.6,755.4 1055.0,753.3 1055.4,751.1 1055.8,743.7 1056.2,743.8 1056.7,740.1 1057.1,734.3 1057.5,731.7 1057.9,734.7 1058.3,741.7 1058.8,748.3 1059.2,753.3 1059.6,750.0 1060.0,745.8 1060.5,737.9 1060.9,732.5 1061.3,730.0 1061.7,734.4 1062.1,745.1 1062.5,749.7 1062.9,753.6 1063.3,761.7 1063.7,760.1 1064.1,758.9 1064.5,754.7 1065.0,750.4 1065.4,751.5 1065.8,746.7 1066.2,758.1 1066.7,766.0 1067.1,779.1 1067.5,788.3 1067.9,787.5 1068.3,787.0 1068.8,785.2 1069.2,784.0 1069.6,783.8 1070.0,783.3 1070.4,784.3 1070.8,784.8 1071.2,787.5 1071.7,784.7 1072.1,786.1 1072.5,788.3 1072.9,786.7 1073.3,781.6 1073.8,778.0 1074.2,774.5 1074.6,769.1 1075.0,766.7 1075.4,757.9 1075.8,748.6 1076.2,739.9 1076.6,735.8 1077.0,725.0 1077.4,732.9 1077.9,740.2 1078.3,742.5 1078.8,752.6 1079.2,758.3 1079.6,763.7 1080.0,771.0 1080.5,778.1 1080.9,781.5 1081.3,790.0 1081.7,787.5 1082.1,786.4 1082.5,786.0 1083.0,782.5 1083.4,779.7 1083.8,779.1 1084.2,776.7 1084.6,775.4 1085.0,772.4 1085.5,771.9 1085.9,769.0 1086.3,766.1 1086.7,766.7 1087.1,764.1 1087.5,761.4 1088.0,761.7 1088.4,760.0 1088.8,760.1 1089.2,756.7 1089.6,759.3 1090.0,760.7 1090.5,763.2 1090.9,761.1 1091.3,763.0 1091.7,765.0 1092.1,761.2 1092.5,758.1 1093.0,757.6 1093.4,755.1 1093.8,750.7 1094.2,750.0 1094.6,753.7 1095.0,755.7 1095.5,752.9 1095.9,754.3 1096.3,756.2 1096.7,760.0 1097.1,757.2 1097.5,754.0 1098.0,746.2 1098.4,742.0 1098.8,740.8 1099.2,736.7 1099.6,732.5 1100.0,727.5 1100.4,724.1 1100.8,723.3 1101.2,720.7 1101.6,719.5 1102.0,718.9 1102.5,719.2 1102.9,716.5 1103.3,716.7 1103.7,719.5 1104.2,723.5 1104.6,731.1 1105.0,733.3 1105.4,734.9 1105.8,739.4 1106.3,741.8 1106.7,745.0 1107.1,749.6 1107.5,755.4 1107.9,759.0 1108.3,766.7 1108.7,774.4 1109.2,785.6 1109.6,795.3 1110.0,803.3 1110.4,803.8 1110.9,805.3 1111.3,810.1 1111.8,808.3 1112.2,811.7 1112.6,811.4 1113.0,810.2 1113.4,805.5 1113.8,806.9 1114.2,803.9 1114.6,808.2 1115.0,813.6 1115.3,820.5 1115.7,826.5 1116.1,833.0 1116.5,838.4 1116.9,842.9 1117.2,849.3 1117.6,853.9 1118.0,858.3 1118.3,882.9 1118.7,909.2 1119.0,936.1 1119.4,948.5 1119.8,958.3 1120.2,972.3 1120.6,983.5 1121.0,994.4 1121.4,989.8 1121.8,986.1 1122.1,982.1 1122.5,978.7 1122.9,975.0 1123.2,986.7 1123.6,998.5 1123.9,1011.9 1124.2,987.0 1124.6,962.5 1124.9,939.0 1125.3,941.9 1125.7,945.5 1126.0,950.0 1126.4,952.7 1126.8,955.6 1127.2,970.5 1127.5,985.7 1127.8,999.1 1128.2,1013.9 1128.6,1026.0 1128.9,1038.0 1129.3,1050.8 1129.7,1044.6 1130.0,1038.0 1130.3,1031.3 1130.7,1023.6 1131.1,1011.4 1131.5,997.8 1131.8,985.2 1132.2,974.6 1132.6,961.4 1132.9,965.7 1133.3,968.0 1133.6,971.1 1134.0,963.7 1134.4,955.2 1134.8,946.2 1135.2,936.5 1135.6,928.3 1136.0,929.3 1136.4,930.2 1136.7,931.5 1137.1,932.9 1137.5,934.2 1137.9,923.3 1138.3,914.3 1138.6,905.1 1139.0,897.1 1139.4,887.5 1139.8,893.1 1140.2,896.8 1140.6,899.1 1141.0,904.5 1141.4,908.9 1141.8,904.3 1142.2,897.5 1142.5,892.3 1142.9,889.1 1143.3,883.6 1143.7,882.4 1144.2,883.7 1144.6,881.8 1145.0,884.0 1145.5,881.9 1145.9,882.1 1146.3,882.3 1146.8,883.3 1147.2,881.7 1147.6,882.5 1148.1,881.6 1148.5,880.4 1148.9,877.5 1149.4,877.3 1149.8,877.9 1150.2,878.9 1150.7,877.3 1151.1,875.8 1151.5,873.8 1152.0,873.6 1152.4,874.9 1152.8,872.4 1153.3,872.9 1153.7,872.0 1154.1,870.9 1154.6,869.4 1155.0,868.1 1155.4,868.4 1155.9,866.8 1156.3,865.7 1156.7,868.4 1157.2,864.7 1157.6,865.2 1158.0,866.2 1158.5,867.2 1158.9,865.1 1159.3,866.2 1159.7,868.4 1160.0,872.8 1160.4,873.0 1160.8,875.8 1161.2,880.9 1161.6,886.2 1162.0,890.6 1162.4,899.2 1162.8,903.1 1163.2,899.5 1163.6,892.8 1163.9,888.9 1164.3,884.7 1164.7,881.7 1165.1,885.1 1165.5,890.8 1165.8,892.1 1166.2,896.3 1166.6,900.5 1167.0,905.0 1167.4,901.0 1167.9,898.3 1168.3,893.0 1168.7,890.2 1169.2,884.9 1169.6,880.7 1170.0,881.6 1170.4,884.3 1170.8,884.4 1171.3,885.1 1171.7,886.4 1172.1,887.5 1172.5,891.9 1172.9,897.0 1173.2,900.7 1173.6,906.0 1174.0,912.7 1174.4,916.7 1174.8,910.8 1175.3,906.3 1175.7,901.4 1176.1,897.3 1176.5,891.5 1177.0,887.8 1177.4,883.6 1177.8,880.4 1178.2,877.0 1178.6,874.1 1179.1,867.6 1179.5,866.1 1179.9,860.8 1180.3,858.3 1180.7,855.4 1181.1,854.0 1181.4,852.7 1181.8,849.7 1182.2,846.7 1182.6,846.2 1183.1,840.0 1183.5,838.8 1183.9,837.1 1184.4,832.9 1184.8,830.6 1185.2,829.5 1185.7,827.9 1186.1,825.3 1186.5,824.6 1186.9,825.2 1187.3,827.0 1187.8,829.6 1188.2,829.7 1188.6,832.3 1189.0,831.1 1189.4,827.9 1189.8,825.5 1190.2,820.6 1190.7,816.6 1191.1,812.7 1191.5,807.6 1191.9,805.8 1192.2,800.1 1192.5,798.3 1192.9,800.3 1193.4,802.6 1193.8,800.2 1194.3,802.3 1194.7,805.0 1195.1,801.1 1195.5,798.0 1195.9,797.2 1196.3,791.5 1196.7,788.6 1197.1,786.3 1197.5,783.3 1197.9,780.4 1198.3,772.3 1198.8,768.9 1199.2,761.1 1199.6,758.0 1200.0,753.3 1200.4,752.6 1200.8,746.4 1201.2,744.3 1201.7,743.0 1202.1,739.8 1202.5,736.7 1202.9,733.8 1203.3,730.6 1203.8,727.6 1204.2,722.5 1204.6,719.3 1205.0,716.7 1205.4,715.0 1205.9,714.6 1206.3,713.3 1206.7,721.0 1207.1,729.9 1207.5,734.8 1207.9,742.4 1208.3,750.0 1208.6,757.7 1208.9,764.5 1209.2,768.3 1209.6,761.2 1210.0,757.8 1210.4,749.6 1210.8,745.0 1211.2,747.6 1211.6,745.5 1212.0,749.2 1212.5,750.9 1212.9,752.9 1213.3,753.3 1213.7,750.4 1214.2,744.8 1214.6,738.6 1215.0,733.3 1215.4,731.1 1215.8,726.4 1216.2,726.9 1216.7,724.8 1217.1,723.5 1217.5,720.0 1217.9,719.6 1218.3,723.2 1218.8,721.8 1219.2,726.7 1219.6,728.6 1220.0,728.3 1220.4,724.7 1220.8,722.6 1221.3,719.2 1221.7,715.0 1222.1,720.2 1222.5,725.4 1222.9,735.1 1223.3,740.0 1223.7,731.8 1224.2,723.3 1224.6,717.2 1225.0,710.0 1225.4,709.3 1225.8,707.4 1226.2,702.9 1226.7,702.5 1227.1,695.7 1227.5,695.0 1227.9,692.2 1228.3,686.7 1228.8,685.2 1229.2,686.0 1229.6,678.6 1230.0,678.3 1230.4,677.6 1230.8,675.2 1231.2,676.4 1231.7,674.9 1232.1,668.3 1232.5,667.6 1232.9,670.2 1233.3,665.8 1233.7,668.3 1234.1,671.0 1234.5,678.6 1234.9,680.5 1235.3,683.3 1235.7,691.0 1236.2,701.1 1236.6,709.2 1237.0,718.3 1237.4,708.4 1237.9,699.3 1238.3,687.5 1238.8,680.3 1239.2,670.0 1239.6,678.3 1240.0,682.0 1240.4,688.8 1240.8,693.0 1241.2,696.5 1241.7,700.5 1242.1,704.4 1242.5,711.7 1242.9,720.9 1243.3,723.0 1243.8,731.0 1244.2,738.3 1244.6,727.8 1245.0,717.0 1245.4,705.2 1245.8,693.3 1246.2,693.3 1246.6,695.6 1247.0,693.8 1247.5,696.3 1247.9,692.3 1248.3,695.0 1248.7,693.4 1249.1,687.2 1249.5,686.0 1250.0,683.6 1250.4,679.3 1250.8,678.3 1251.2,676.1 1251.6,676.4 1252.0,669.9 1252.5,668.8 1252.9,671.4 1253.3,666.7 1253.7,661.4 1254.1,656.1 1254.5,654.1 1255.0,648.3 1255.4,639.7 1255.8,636.7 1256.2,633.4 1256.6,626.9 1257.0,626.7 1257.5,621.4 1257.9,619.1 1258.3,613.3 1258.7,609.3 1259.2,613.5 1259.6,607.8 1260.0,608.3 1260.4,613.0 1260.8,612.9 1261.2,618.2 1261.7,615.8 1262.1,618.0 1262.5,623.3 1262.9,625.9 1263.3,631.5 1263.8,631.4 1264.2,634.5 1264.6,635.2 1265.0,640.0 1265.4,644.8 1265.8,648.7 1266.3,656.0 1266.7,658.3 1267.1,668.9 1267.5,676.5 1267.9,683.9 1268.3,695.0 1268.6,699.8 1268.9,710.8 1269.2,715.0 1269.6,705.6 1270.0,693.5 1270.4,686.7 1270.8,675.0 1271.2,677.3 1271.6,682.5 1272.0,688.7 1272.5,688.4 1272.9,692.3 1273.3,698.3 1273.7,687.9 1274.2,680.6 1274.6,673.9 1275.0,666.7 1275.4,660.7 1275.8,655.4 1276.2,648.8 1276.7,646.6 1277.1,641.4 1277.5,636.7 1277.9,634.0 1278.3,627.2 1278.8,624.7 1279.2,618.9 1279.6,617.4 1280.0,611.7 1280.4,604.9 1280.8,602.2 1281.2,597.2 1281.7,592.5 1282.1,588.3 1282.5,583.3 1282.9,579.9 1283.3,574.9 1283.8,574.7 1284.2,571.9 1284.6,565.7 1285.0,561.7 1285.4,559.3 1285.8,556.6 1286.2,550.5 1286.7,549.0 1287.1,544.8 1287.5,541.7 1287.9,530.7 1288.3,520.0 1288.7,506.7 1289.2,495.3 1289.6,480.4 1290.0,470.0 1290.4,442.9 1290.8,420.0 1291.2,390.8 1291.6,367.5 1292.0,340.0 1292.3,358.9 1292.7,384.6 1293.0,403.3 1293.4,448.2 1293.8,488.6 1294.2,528.3 1294.6,478.1 1294.9,434.1 1295.3,381.7 1295.7,394.1 1296.0,408.0 1296.3,423.7 1296.7,436.7 1297.1,454.6 1297.6,469.3 1298.0,486.7 1298.4,498.8 1298.8,509.3 1299.3,515.2 1299.7,526.7 1300.1,503.8 1300.5,484.2 1300.9,465.7 1301.3,443.3 1301.7,459.6 1302.2,470.8 1302.6,487.5 1303.0,503.3 1303.4,493.8 1303.8,481.8 1304.3,466.6 1304.7,453.3 1305.1,467.6 1305.5,480.1 1305.9,487.5 1306.3,501.7 1306.7,477.3 1307.1,460.3 1307.5,438.3 1307.9,442.4 1308.3,450.0 1308.8,451.7 1309.2,458.3 1309.6,444.0 1310.0,433.3 1310.4,413.7 1310.8,403.3 1311.1,392.5 1311.4,380.3 1311.7,373.3 1312.1,376.9 1312.6,382.0 1313.0,383.3 1313.4,382.8 1313.8,376.1 1314.2,369.2 1314.6,372.6 1315.0,381.6 1315.4,388.9 1315.8,395.0 1316.2,410.7 1316.7,425.8 1317.1,442.5 1317.5,453.3 1317.9,440.8 1318.4,418.7 1318.8,405.0 1319.2,419.4 1319.6,443.2 1320.0,456.7 1320.4,470.7 1320.8,493.5 1321.3,503.9 1321.7,523.3 1322.1,511.4 1322.5,495.6 1322.9,483.0 1323.3,473.3 1323.7,479.5 1324.0,490.5 1324.3,497.3 1324.7,503.3 1325.1,486.1 1325.4,468.8 1325.8,455.8 1326.2,470.8 1326.7,485.4 1327.1,502.0 1327.5,520.0 1327.8,529.3 1328.2,538.6 1328.5,548.0 1328.9,545.2 1329.2,533.6 1329.6,531.0 1330.0,525.0 1330.3,537.8 1330.7,547.2 1331.0,562.0 1331.5,549.3 1331.9,536.0 1332.3,529.6 1332.8,515.0 1333.2,526.8 1333.5,537.8 1333.8,553.6 1334.2,566.7 1334.6,573.1 1335.0,581.8 1335.4,586.9 1335.8,591.7 1336.2,583.9 1336.7,582.7 1337.1,570.9 1337.5,568.3 1337.9,580.5 1338.4,587.2 1338.8,603.2 1339.3,610.1 1339.7,623.0 1340.1,611.6 1340.5,598.5 1340.9,585.0 1341.3,570.0 1341.7,555.7 1342.1,546.0 1342.5,535.0 1342.9,540.9 1343.4,553.8 1343.8,564.3 1344.3,569.8 1344.7,578.3 1345.1,572.0 1345.5,564.8 1345.9,553.9 1346.3,548.1 1346.7,541.7 1347.1,538.6 1347.5,539.3 1348.0,534.8 1348.4,532.4 1348.8,531.6 1349.2,529.2 1349.6,533.6 1350.0,539.2 1350.5,546.9 1350.9,551.9 1351.3,561.7 1351.7,569.2 1352.1,574.1 1352.5,581.4 1352.9,587.4 1353.3,593.3 1353.7,592.9 1354.1,600.3 1354.5,602.8 1355.0,600.2 1355.4,605.4 1355.8,608.3 1356.2,624.7 1356.7,637.0 1357.1,654.2 1357.5,666.7 1357.9,658.7 1358.3,649.3 1358.8,641.6 1359.2,630.0 1359.6,637.5 1360.0,642.2 1360.4,644.8 1360.8,653.3 1361.2,646.9 1361.6,642.2 1362.0,635.1 1362.5,629.4 1362.9,621.9 1363.3,616.7 1363.7,621.0 1364.1,619.6 1364.5,624.2 1365.0,625.2 1365.4,625.6 1365.8,630.0 1366.2,620.4 1366.7,614.4 1367.1,608.7 1367.6,603.2 1368.0,596.7 1368.4,598.3 1368.8,603.3 1369.2,612.5 1369.6,618.3 1370.0,620.0 1370.4,616.2 1370.8,613.2 1371.3,610.7 1371.7,606.7 1372.1,612.5 1372.5,623.6 1372.9,632.7 1373.3,640.0 1373.7,640.2 1374.1,635.9 1374.5,632.8 1375.0,629.5 1375.4,630.0 1375.8,625.0 1376.2,621.8 1376.7,618.2 1377.1,616.4 1377.6,611.2 1378.0,608.3 1378.4,619.4 1378.8,636.4 1379.3,651.7 1379.7,663.3 1380.1,669.7 1380.5,675.2 1380.9,682.4 1381.3,691.7 1381.7,685.0 1382.1,671.5 1382.5,665.6 1382.9,653.3 1383.3,646.7 1383.7,640.1 1384.2,635.8 1384.6,625.0 1385.0,620.0 1385.4,614.4 1385.8,612.0 1386.3,607.3 1386.7,602.5 1387.1,608.1 1387.5,612.2 1387.9,615.2 1388.3,623.3 1388.7,630.6 1389.2,635.3 1389.6,644.0 1390.0,650.0 1390.4,660.5 1390.8,670.3 1391.3,685.2 1391.7,693.3 1392.1,685.2 1392.5,681.8 1392.9,671.9 1393.3,665.0 1393.7,668.9 1394.2,671.2 1394.6,674.4 1395.0,680.0 1395.4,675.7 1395.8,668.9 1396.3,664.2 1396.7,658.3 1397.1,663.6 1397.5,672.6 1397.9,680.5 1398.3,686.7 1398.7,689.8 1399.1,690.9 1399.5,691.2 1400.0,694.4 1400.4,695.6 1400.8,696.7 1401.2,689.5 1401.7,683.2 1402.1,674.3 1402.5,668.3 1402.9,670.3 1403.3,675.2 1403.8,684.3 1404.2,688.3 1404.6,692.3 1405.0,695.0 1405.4,687.4 1405.8,684.4 1406.3,677.9 1406.7,670.0 1407.1,666.1 1407.5,660.5 1408.0,655.2 1408.4,656.3 1408.8,652.1 1409.2,645.0 1409.6,644.3 1410.0,639.1 1410.5,638.0 1410.9,636.4 1411.3,631.3 1411.7,628.3 1412.1,621.3 1412.5,621.8 1413.0,614.4 1413.4,611.1 1413.8,605.5 1414.2,600.0 1414.6,600.6 1415.0,606.4 1415.5,606.9 1415.9,611.9 1416.3,619.5 1416.7,620.0 1417.1,621.7 1417.5,621.5 1418.0,619.3 1418.4,623.3 1418.8,623.4 1419.2,623.3 1419.6,616.7 1420.0,609.5 1420.5,603.5 1420.9,593.0 1421.3,586.5 1421.7,578.3 1422.1,574.9 1422.5,571.7 1423.0,568.7 1423.4,561.8 1423.8,557.3 1424.2,556.7 1424.6,551.6 1425.0,548.6 1425.5,549.6 1425.9,545.3 1426.3,546.2 1426.7,541.7 1427.1,547.7 1427.5,556.0 1427.9,569.1 1428.3,575.0 1428.7,577.3 1429.2,584.0 1429.6,591.2 1430.0,595.0 1430.4,591.0 1430.8,584.6 1431.2,579.2 1431.7,577.7 1432.1,571.1 1432.5,568.3 1432.9,574.3 1433.3,574.0 1433.8,582.0 1434.2,579.6 1434.6,587.1 1435.0,590.0 1435.4,596.1 1435.8,604.8 1436.3,612.1 1436.7,620.0 1437.1,628.6 1437.5,631.4 1437.9,641.6 1438.3,646.7 1438.7,639.7 1439.2,639.2 1439.6,636.1 1440.0,630.0 1440.4,629.3 1440.8,631.6 1441.2,628.3 1441.7,628.0 1442.1,631.1 1442.5,628.3 1442.9,642.9 1443.4,653.4 1443.8,661.8 1444.3,677.5 1444.7,686.7 1445.1,677.6 1445.5,672.1 1445.9,660.6 1446.3,651.7 1446.7,645.0 1447.1,645.5 1447.5,650.0 1448.0,653.7 1448.4,652.9 1448.8,652.5 1449.2,656.7 1449.6,661.9 1450.0,667.3 1450.4,670.8 1450.8,673.3 1451.2,667.1 1451.6,665.6 1452.0,664.9 1452.5,661.1 1452.9,659.5 1453.3,653.3 1453.7,651.8 1454.1,647.3 1454.5,642.8 1455.0,637.0 1455.4,631.1 1455.8,630.0 1456.2,639.5 1456.7,645.6 1457.1,655.9 1457.5,661.7 1457.9,653.7 1458.3,652.1 1458.8,645.1 1459.2,640.7 1459.6,633.8 1460.0,626.7 1460.4,625.7 1460.8,625.5 1461.2,622.4 1461.7,622.6 1462.1,624.0 1462.5,621.0 1462.9,621.5 1463.3,621.7 1463.7,624.0 1464.1,625.0 1464.5,628.3 1465.0,626.8 1465.4,628.9 1465.8,630.0 1466.2,624.8 1466.6,622.1 1467.0,616.6 1467.5,613.9 1467.9,604.1 1468.3,601.7 1468.7,597.6 1469.1,597.0 1469.5,597.4 1470.0,595.9 1470.4,591.4 1470.8,591.7 1471.2,587.1 1471.6,586.2 1472.0,581.0 1472.5,581.6 1472.9,573.8 1473.3,573.3 1473.7,578.2 1474.1,577.1 1474.5,583.9 1475.0,587.4 1475.4,591.5 1475.8,591.7 1476.2,597.9 1476.6,595.9 1477.0,603.5 1477.5,608.7 1477.9,611.4 1478.3,613.3 1478.7,616.4 1479.2,621.6 1479.6,622.0 1480.0,626.7 1480.4,629.0 1480.8,627.0 1481.1,630.9 1481.5,628.5 1481.9,624.8 1482.3,627.5 1482.7,623.9 1483.0,627.0 1483.4,627.5 1483.8,623.8 1484.2,623.1 1484.7,629.7 1485.1,630.5 1485.5,633.8 1486.0,641.1 1486.3,650.1 1486.6,655.0 1486.9,662.8 1487.3,655.2 1487.7,653.5 1488.1,649.7 1488.5,639.7 1488.9,637.7 1489.3,630.9 1489.7,626.7 1490.2,619.3 1490.6,615.0 1491.0,610.3 1491.5,608.6 1491.9,605.2 1492.3,603.1 1492.8,602.4 1493.2,600.7 1493.6,597.8 1494.0,602.4 1494.4,604.9 1494.8,602.9 1495.2,608.2 1495.6,612.2 1496.0,612.2 1496.5,612.9 1496.9,617.4 1497.3,622.1 1497.8,621.3 1498.2,628.4 1498.7,635.1 1499.1,639.1 1499.6,646.5 1500.0,653.7 1500.3,657.1 1500.7,658.5 1501.0,662.7 1501.4,668.2 1501.9,658.1 1502.3,653.6 1502.8,648.7 1503.2,639.3 1503.7,646.9 1504.1,649.0 1504.5,655.4 1505.0,662.8 1505.3,656.8 1505.7,653.2 1506.1,648.8 1506.4,646.5 1506.8,651.4 1507.2,660.5 1507.5,669.5 1507.9,675.9 1508.3,680.8 1508.8,689.1 1509.2,695.2 1509.6,706.0 1510.1,711.5 1510.5,703.8 1510.9,696.7 1511.4,691.5 1511.8,688.5 1512.2,680.8 1512.7,686.4 1513.1,688.8 1513.5,692.8 1514.0,698.9 1514.4,692.2 1514.8,684.0 1515.2,678.1 1515.5,668.6 1515.9,659.1 1516.3,651.5 1516.7,646.5 1517.2,652.6 1517.6,662.0 1518.0,670.8 1518.5,677.2 1518.9,681.7 1519.3,682.9 1519.7,692.3 1520.1,693.8 1520.5,698.5 1520.9,702.5 1521.3,695.0 1521.8,689.5 1522.2,683.6 1522.7,680.0 1523.1,673.6 1523.5,680.6 1523.8,681.7 1524.2,686.9 1524.5,691.2 1524.9,697.1 1525.4,690.4 1525.8,686.3 1526.2,686.4 1526.7,680.8 1527.2,687.5 1527.6,686.4 1528.0,690.7 1528.5,697.1 1529.0,694.6 1529.4,691.5 1529.8,689.0 1530.3,688.1 1530.7,689.9 1531.1,685.9 1531.5,685.6 1531.8,689.3 1532.2,687.5 1532.6,687.6 1533.0,686.3 1533.5,689.5 1533.9,688.2 1534.3,695.7 1534.8,695.3 1535.2,688.2 1535.7,684.7 1536.1,681.6 1536.6,677.2 1537.0,674.8 1537.3,671.1 1537.7,661.4 1538.0,657.8 1538.4,655.6 1538.9,648.5 1539.3,644.8 1539.8,645.2 1540.2,638.4 1540.7,639.3 1541.1,645.4 1541.5,646.8 1542.0,652.0 1542.5,652.7 1542.9,657.9 1543.3,661.4 1543.8,666.4 1544.2,670.2 1544.7,675.7 1545.1,677.4 1545.6,680.8 1545.9,675.6 1546.2,668.7 1546.5,664.6 1546.9,664.6 1547.3,668.1 1547.7,669.4 1548.0,674.1 1548.4,671.9 1548.8,672.7 1549.2,677.2 1549.7,681.0 1550.1,688.8 1550.5,694.6 1551.0,702.5 1551.4,703.7 1551.8,708.1 1552.1,709.1 1552.5,710.2 1552.9,711.5 1553.4,711.2 1553.8,709.3 1554.2,702.9 1554.7,704.1 1555.1,699.0 1555.6,698.9 1556.0,695.3 1556.4,692.1 1556.8,688.3 1557.1,684.0 1557.5,681.7 1557.9,681.5 1558.3,677.2 1558.7,703.8 1559.1,727.5 1559.5,749.5 1559.9,742.9 1560.3,741.4 1560.7,735.3 1561.1,732.7 1561.5,728.6 1561.9,724.2 1562.4,724.9 1562.8,726.9 1563.2,731.3 1563.7,731.5 1564.1,737.9 1564.6,738.6 1565.0,745.9 1565.3,747.1 1565.7,756.3 1566.0,761.9 1566.4,765.7 1566.9,755.8 1567.3,750.8 1567.8,742.6 1568.2,735.0 1568.6,735.2 1569.0,740.2 1569.4,740.8 1569.7,743.8 1570.1,746.2 1570.5,748.2 1570.9,747.7 1571.4,746.1 1571.8,744.7 1572.2,738.3 1572.7,737.2 1573.1,735.5 1573.6,733.2 1574.0,725.3 1574.3,716.6 1574.7,711.1 1575.0,701.9 1575.4,693.5 1575.9,688.6 1576.3,679.6 1576.8,675.7 1577.2,666.4 1577.7,680.5 1578.1,698.9 1578.5,711.5 1579.0,726.0 1579.4,723.0 1579.8,722.0 1580.2,717.0 1580.5,717.7 1580.9,714.9 1581.3,713.6 1581.7,709.7 1582.1,708.8 1582.5,711.9 1582.9,714.1 1583.3,712.6 1583.7,717.6 1584.1,719.6 1584.5,718.8 1585.0,712.2 1585.4,705.8 1585.8,699.5 1586.3,689.9 1586.8,697.3 1587.2,705.3 1587.6,715.0 1588.1,720.6 1588.5,724.4 1588.8,725.2 1589.2,729.7 1589.5,733.5 1589.9,735.0 1590.4,735.8 1590.8,731.3 1591.2,730.6 1591.7,731.4 1592.1,730.3 1592.5,728.4 1592.9,726.4 1593.2,723.1 1593.6,720.5 1594.0,721.5 1594.4,717.0 1594.9,720.7 1595.3,725.8 1595.8,729.4 1596.2,736.8 1596.7,731.4 1597.1,730.9 1597.5,727.8 1598.0,722.2 1598.5,721.7 1598.9,715.4 1599.3,713.2 1599.8,710.6 1600.2,716.1 1600.7,721.5 1601.1,724.6 1601.6,729.6 1602.0,733.8 1602.4,734.6 1602.8,738.2 1603.1,741.6 1603.5,742.8 1603.9,745.4 1604.3,747.7 1604.7,754.3 1605.0,754.4 1605.4,758.9 1605.8,765.7 1606.2,757.7 1606.6,753.2 1607.1,748.5 1607.5,743.2 1607.9,736.8 1608.4,740.4 1608.8,739.8 1609.2,746.8 1609.7,746.4 1610.1,752.7 1610.6,753.1 1611.0,751.3 1611.4,752.7 1611.8,751.1 1612.1,746.6 1612.5,748.0 1612.9,746.4 1613.3,745.9 1613.7,749.9 1614.1,747.7 1614.5,750.0 1614.9,750.5 1615.3,751.2 1615.7,755.3 1616.1,756.7 1616.5,756.2 1616.8,752.9 1617.2,755.1 1617.5,751.0 1617.9,751.3 1618.2,760.6 1618.6,766.6 1619.0,775.2 1619.3,780.2 1619.7,775.9 1620.2,773.8 1620.6,768.8 1621.1,765.3 1621.5,760.3 1621.9,761.7 1622.3,764.0 1622.7,764.6 1623.0,766.7 1623.4,771.3 1623.8,769.1 1624.2,772.9 1624.7,765.0 1625.1,755.2 1625.5,742.8 1626.0,735.0 1626.5,736.9 1626.9,741.2 1627.3,741.8 1627.8,744.0 1628.2,736.5 1628.7,728.9 1629.1,719.6 1629.6,716.3 1630.0,706.1 1630.5,712.8 1630.9,715.8 1631.3,721.6 1631.8,727.8 1632.2,724.8 1632.5,721.6 1632.8,715.8 1633.2,711.5 1633.6,713.6 1634.0,717.1 1634.3,721.3 1634.7,724.2 1635.1,718.1 1635.5,709.0 1635.9,699.8 1636.3,699.8 1636.8,700.2 1637.2,704.3" fill="none" stroke="#db9652" stroke-width="2.8" stroke-linejoin="round" stroke-linecap="round"/>
<text x="155.3" y="89.5" font-size="27.5" fill="#1c1c1c" text-anchor="start" textLength="642.6" lengthAdjust="spacingAndGlyphs" >Market and Economic Chartbook | March 2, 2026</text>
<rect x="155" y="106.7" width="1131" height="1" fill="#59636c"/>
<text x="149.6" y="186.9" font-size="70" fill="#2f3a46" text-anchor="start" textLength="1048.5" lengthAdjust="spacingAndGlyphs" stroke="#ffffff" stroke-width="0.9">Middle East Conflicts and Markets</text>
<text x="149.0" y="247.8" font-size="36.8" fill="#0c0c0c" text-anchor="start" textLength="1089.5" lengthAdjust="spacingAndGlyphs" font-style="italic">Major Middle East events, oil prices, and the S&amp;P 500 since 2010</text>
<path d="M 1506.9 92.6 A 17.4 17.4 0 1 0 1489.5 111.6" fill="none" stroke="#8c95ae" stroke-width="3.8"/>
<text x="1480.8" y="100.8" font-size="20" fill="#1d3355" text-anchor="start" textLength="17.2" lengthAdjust="spacingAndGlyphs" font-weight="bold" stroke="#1d3355" stroke-width="0.5">M</text>
<text x="1498.3" y="115.4" font-size="17" fill="#14284a" text-anchor="start" textLength="222.5" lengthAdjust="spacing" font-family='Liberation Serif, Times New Roman, serif' font-weight="bold">FINANCIAL</text>
<text x="1498.3" y="130.8" font-size="13.8" fill="#94794a" text-anchor="start" textLength="228.5" lengthAdjust="spacing" font-family='Liberation Serif, Times New Roman, serif' >PLANNING SERVICES, INC.</text>
<text x="1480.0" y="149.3" font-size="11.8" fill="#1b2c4e" text-anchor="start" textLength="227.0" lengthAdjust="spacingAndGlyphs" font-family='Liberation Serif, Times New Roman, serif' font-style="italic" stroke="#1b2c4e" stroke-width="0.25">Comprehensive Wealth Management Services</text>
<text x="1485.5" y="162.5" font-size="11.8" fill="#1b2c4e" text-anchor="start" textLength="259.0" lengthAdjust="spacingAndGlyphs" font-family='Liberation Serif, Times New Roman, serif' font-style="italic" stroke="#1b2c4e" stroke-width="0.25">for Business Owners, Executives and Their Families</text>
<rect x="751.4" y="329.3" width="38" height="2" fill="#32475b"/>
<rect x="751.4" y="360.7" width="38" height="2" fill="#db9652"/>
<text x="797.3" y="338.0" font-size="18" fill="#202428" text-anchor="start" textLength="116.8" lengthAdjust="spacingAndGlyphs" >S&amp;P 500 (left)</text>
<text x="797.3" y="370.0" font-size="18" fill="#202428" text-anchor="start" textLength="276.2" lengthAdjust="spacingAndGlyphs" >Brent Crude Oil (USD/bbl, right)</text>
<text x="161.8" y="347.0" font-size="23.2" fill="#353c43" text-anchor="start" textLength="71.5" lengthAdjust="spacingAndGlyphs" >$7,000</text>
<text x="161.8" y="455.6" font-size="23.2" fill="#353c43" text-anchor="start" textLength="71.5" lengthAdjust="spacingAndGlyphs" >$6,000</text>
<text x="161.8" y="564.2" font-size="23.2" fill="#353c43" text-anchor="start" textLength="71.5" lengthAdjust="spacingAndGlyphs" >$5,000</text>
<text x="161.8" y="672.8" font-size="23.2" fill="#353c43" text-anchor="start" textLength="71.5" lengthAdjust="spacingAndGlyphs" >$4,000</text>
<text x="161.8" y="781.4" font-size="23.2" fill="#353c43" text-anchor="start" textLength="71.5" lengthAdjust="spacingAndGlyphs" >$3,000</text>
<text x="161.8" y="890.0" font-size="23.2" fill="#353c43" text-anchor="start" textLength="71.5" lengthAdjust="spacingAndGlyphs" >$2,000</text>
<text x="161.8" y="998.6" font-size="23.2" fill="#353c43" text-anchor="start" textLength="71.5" lengthAdjust="spacingAndGlyphs" >$1,000</text>
<text x="1692.8" y="400.6" font-size="23.2" fill="#33446a" text-anchor="start" textLength="47.3" lengthAdjust="spacingAndGlyphs" >$120</text>
<text x="1692.8" y="528.1" font-size="23.2" fill="#33446a" text-anchor="start" textLength="47.3" lengthAdjust="spacingAndGlyphs" >$100</text>
<text x="1692.8" y="655.5" font-size="23.2" fill="#33446a" text-anchor="start" textLength="35.2" lengthAdjust="spacingAndGlyphs" >$80</text>
<text x="1692.8" y="783.0" font-size="23.2" fill="#33446a" text-anchor="start" textLength="35.2" lengthAdjust="spacingAndGlyphs" >$60</text>
<text x="1692.8" y="910.4" font-size="23.2" fill="#33446a" text-anchor="start" textLength="35.2" lengthAdjust="spacingAndGlyphs" >$40</text>
<text x="1692.8" y="1037.8" font-size="23.2" fill="#33446a" text-anchor="start" textLength="35.2" lengthAdjust="spacingAndGlyphs" >$20</text>
<rect x="235.5" y="1090.4" width="1455.5" height="1.5" fill="#4a4f55"/>
<text x="208.3" y="1123.9" font-size="23.2" fill="#353c43" text-anchor="start" textLength="53.2" lengthAdjust="spacingAndGlyphs" >2010</text>
<text x="381.8" y="1123.9" font-size="23.2" fill="#353c43" text-anchor="start" textLength="53.2" lengthAdjust="spacingAndGlyphs" >2012</text>
<text x="555.3" y="1123.9" font-size="23.2" fill="#353c43" text-anchor="start" textLength="53.2" lengthAdjust="spacingAndGlyphs" >2014</text>
<text x="728.8" y="1123.9" font-size="23.2" fill="#353c43" text-anchor="start" textLength="53.2" lengthAdjust="spacingAndGlyphs" >2016</text>
<text x="902.3" y="1123.9" font-size="23.2" fill="#353c43" text-anchor="start" textLength="53.2" lengthAdjust="spacingAndGlyphs" >2018</text>
<text x="1075.8" y="1123.9" font-size="23.2" fill="#353c43" text-anchor="start" textLength="53.2" lengthAdjust="spacingAndGlyphs" >2020</text>
<text x="1249.3" y="1123.9" font-size="23.2" fill="#353c43" text-anchor="start" textLength="53.2" lengthAdjust="spacingAndGlyphs" >2022</text>
<text x="1422.8" y="1123.9" font-size="23.2" fill="#353c43" text-anchor="start" textLength="53.2" lengthAdjust="spacingAndGlyphs" >2024</text>
<text x="1596.3" y="1123.9" font-size="23.2" fill="#353c43" text-anchor="start" textLength="53.2" lengthAdjust="spacingAndGlyphs" >2026</text>
<g transform="translate(133.3,771.8) rotate(-90)">
<text x="0.0" y="0.0" font-size="23" fill="#3a434b" text-anchor="start" textLength="154.0" lengthAdjust="spacingAndGlyphs" >S&amp;P 500 Index</text>
</g>
<g transform="translate(1776.3,839.5) rotate(-90)">
<text x="0.0" y="0.0" font-size="23" fill="#33446a" text-anchor="start" textLength="288.5" lengthAdjust="spacingAndGlyphs" >Brent Crude Oil (USD / bbl)</text>
</g>
<text x="275.7" y="717.9" font-size="18.8" fill="#454e57" text-anchor="start" textLength="128.0" lengthAdjust="spacingAndGlyphs" >Libya Civil War</text>
<text x="265.2" y="831.6" font-size="18.8" fill="#454e57" text-anchor="start" textLength="104.7" lengthAdjust="spacingAndGlyphs" >Arab Spring</text>
<text x="240.2" y="859.1" font-size="18.8" fill="#454e57" text-anchor="start" textLength="154.7" lengthAdjust="spacingAndGlyphs" >Begins (Dec 2010)</text>
<text x="567.6" y="382.2" font-size="18.8" fill="#454e57" text-anchor="start" textLength="115.0" lengthAdjust="spacingAndGlyphs" >ISIS Declares</text>
<text x="582.0" y="409.8" font-size="18.8" fill="#454e57" text-anchor="start" textLength="86.0" lengthAdjust="spacingAndGlyphs" >Caliphate</text>
<text x="679.8" y="640.4" font-size="18.8" fill="#454e57" text-anchor="start" textLength="99.4" lengthAdjust="spacingAndGlyphs" >Iran JCPOA</text>
<text x="673.7" y="667.9" font-size="18.8" fill="#454e57" text-anchor="start" textLength="111.7" lengthAdjust="spacingAndGlyphs" >Nuclear Deal</text>
<text x="708.5" y="1024.3" font-size="18.8" fill="#454e57" text-anchor="start" textLength="95.4" lengthAdjust="spacingAndGlyphs" >Saudi–Iran</text>
<text x="680.4" y="1051.6" font-size="18.8" fill="#454e57" text-anchor="start" textLength="152.2" lengthAdjust="spacingAndGlyphs" >Diplomatic Break</text>
<text x="918.4" y="577.0" font-size="18.8" fill="#454e57" text-anchor="start" textLength="81.1" lengthAdjust="spacingAndGlyphs" >U.S. Exits</text>
<text x="909.3" y="604.3" font-size="18.8" fill="#454e57" text-anchor="start" textLength="99.3" lengthAdjust="spacingAndGlyphs" >Iran JCPOA</text>
<text x="1058.7" y="640.4" font-size="18.8" fill="#454e57" text-anchor="start" textLength="88.8" lengthAdjust="spacingAndGlyphs" >Soleimani</text>
<text x="1045.3" y="667.9" font-size="18.8" fill="#454e57" text-anchor="start" textLength="115.6" lengthAdjust="spacingAndGlyphs" >Killed by U.S.</text>
<text x="1368.2" y="436.2" font-size="18.8" fill="#454e57" text-anchor="start" textLength="122.0" lengthAdjust="spacingAndGlyphs" >Hamas Attack</text>
<text x="1390.7" y="463.7" font-size="18.8" fill="#454e57" text-anchor="start" textLength="76.5" lengthAdjust="spacingAndGlyphs" >on Israel</text>
<text x="1379.8" y="491.2" font-size="18.8" fill="#454e57" text-anchor="start" textLength="98.4" lengthAdjust="spacingAndGlyphs" >Oct 7, 2023</text>
<text x="1477.3" y="335.4" font-size="18.8" fill="#454e57" text-anchor="start" textLength="128.9" lengthAdjust="spacingAndGlyphs" >Gaza Ceasefire</text>
<text x="1563.6" y="577.4" font-size="18.8" fill="#454e57" text-anchor="start" textLength="125.0" lengthAdjust="spacingAndGlyphs" >U.S. and Israel</text>
<text x="1580.7" y="604.5" font-size="18.8" fill="#454e57" text-anchor="start" textLength="90.2" lengthAdjust="spacingAndGlyphs" >Strike Iran</text>
<text x="1415.0" y="755.4" font-size="18.8" fill="#454e57" text-anchor="start" textLength="116.5" lengthAdjust="spacingAndGlyphs" >Iran Missile &amp;</text>
<text x="1416.3" y="782.9" font-size="18.8" fill="#454e57" text-anchor="start" textLength="113.9" lengthAdjust="spacingAndGlyphs" >Drone Attack</text>
<text x="1435.5" y="810.4" font-size="18.8" fill="#454e57" text-anchor="start" textLength="76.1" lengthAdjust="spacingAndGlyphs" >on Israel</text>
<text x="1399.5" y="1201.7" font-size="18.3" fill="#414b55" text-anchor="start" textLength="275.5" lengthAdjust="spacingAndGlyphs" font-style="italic">Latest data point is Feb 27, 2026</text>
<text x="1547.0" y="1347.2" font-size="21.2" fill="#0a0a0a" text-anchor="start" textLength="222.0" lengthAdjust="spacingAndGlyphs" >Sources: Clearnomics,</text>
<text x="1526.0" y="1373.5" font-size="21.2" fill="#0a0a0a" text-anchor="start" textLength="243.0" lengthAdjust="spacingAndGlyphs" >Standard &amp; Poor’s, LSEG</text>
<text x="1580.0" y="1401.9" font-size="16.8" fill="#8d8d8d" text-anchor="start" textLength="192.3" lengthAdjust="spacingAndGlyphs" >© 2026 Clearnomics, Inc.</text>
</svg>
</body></html>
